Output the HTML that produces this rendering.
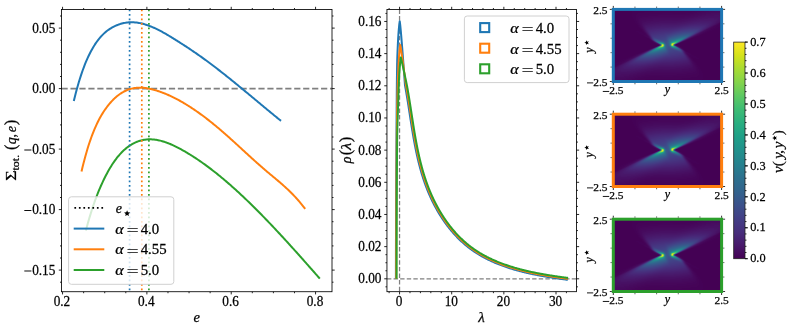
<!DOCTYPE html>
<html><head><meta charset="utf-8"><style>
html,body{margin:0;padding:0;background:#fff;}
#fig{position:relative;width:793px;height:331px;overflow:hidden;background:#fff;font-family:"Liberation Serif", serif;}
svg{position:absolute;left:0;top:0;}
text{stroke:#000;stroke-width:0.25px;}
</style></head><body><div id="fig">
<canvas class="hm" width="108" height="72" style="position:absolute;left:613.3px;top:9.4px;width:108.3px;height:72.1px;background:#440154"></canvas>
<canvas class="hm" width="108" height="72" style="position:absolute;left:613.3px;top:114.2px;width:108.3px;height:72.3px;background:#440154"></canvas>
<canvas class="hm" width="108" height="72" style="position:absolute;left:613.3px;top:219.2px;width:108.3px;height:72.3px;background:#440154"></canvas>
<svg width="793" height="331" viewBox="0 0 793 331">
<g id="left">
<line x1="61.5" y1="88.6" x2="332" y2="88.6" stroke="#808080" stroke-width="1.8" stroke-dasharray="6.2 2.75"/>
<path d="M73.80,101.09 L74.80,96.97 L75.80,93.04 L76.80,89.28 L77.80,85.68 L78.80,82.24 L79.81,78.96 L80.81,75.83 L81.81,72.85 L82.81,70.00 L83.81,67.28 L84.81,64.70 L85.81,62.23 L86.81,59.88 L87.81,57.64 L88.81,55.51 L89.82,53.48 L90.82,51.54 L91.82,49.70 L92.82,47.94 L93.82,46.26 L94.82,44.67 L95.82,43.16 L96.82,41.73 L97.82,40.37 L98.82,39.08 L99.83,37.86 L100.83,36.71 L101.83,35.62 L102.83,34.60 L103.83,33.63 L104.83,32.72 L105.83,31.86 L106.83,31.06 L107.83,30.30 L108.83,29.59 L109.83,28.92 L110.84,28.29 L111.84,27.70 L112.84,27.14 L113.84,26.62 L114.84,26.13 L115.84,25.67 L116.84,25.24 L117.84,24.84 L118.84,24.47 L119.84,24.13 L120.85,23.81 L121.85,23.53 L122.85,23.28 L123.85,23.05 L124.85,22.86 L125.85,22.69 L126.85,22.55 L127.85,22.43 L128.85,22.35 L129.85,22.29 L130.86,22.26 L131.86,22.26 L132.86,22.28 L133.86,22.32 L134.86,22.40 L135.86,22.49 L136.86,22.61 L137.86,22.75 L138.86,22.92 L139.86,23.11 L140.86,23.32 L141.87,23.55 L142.87,23.80 L143.87,24.07 L144.87,24.36 L145.87,24.67 L146.87,25.00 L147.87,25.34 L148.87,25.70 L149.87,26.08 L150.87,26.48 L151.88,26.89 L152.88,27.32 L153.88,27.76 L154.88,28.21 L155.88,28.68 L156.88,29.16 L157.88,29.65 L158.88,30.16 L159.88,30.68 L160.88,31.20 L161.89,31.74 L162.89,32.29 L163.89,32.85 L164.89,33.41 L165.89,33.99 L166.89,34.57 L167.89,35.16 L168.89,35.75 L169.89,36.35 L170.89,36.96 L171.89,37.57 L172.90,38.18 L173.90,38.80 L174.90,39.43 L175.90,40.05 L176.90,40.68 L177.90,41.31 L178.90,41.94 L179.90,42.58 L180.90,43.22 L181.90,43.86 L182.91,44.51 L183.91,45.16 L184.91,45.81 L185.91,46.46 L186.91,47.12 L187.91,47.78 L188.91,48.44 L189.91,49.11 L190.91,49.78 L191.91,50.46 L192.91,51.14 L193.92,51.82 L194.92,52.50 L195.92,53.19 L196.92,53.88 L197.92,54.58 L198.92,55.28 L199.92,55.99 L200.92,56.69 L201.92,57.41 L202.92,58.12 L203.93,58.84 L204.93,59.57 L205.93,60.30 L206.93,61.03 L207.93,61.77 L208.93,62.51 L209.93,63.25 L210.93,64.00 L211.93,64.75 L212.93,65.51 L213.94,66.27 L214.94,67.03 L215.94,67.80 L216.94,68.56 L217.94,69.34 L218.94,70.11 L219.94,70.89 L220.94,71.67 L221.94,72.46 L222.94,73.25 L223.94,74.04 L224.95,74.83 L225.95,75.62 L226.95,76.42 L227.95,77.22 L228.95,78.02 L229.95,78.83 L230.95,79.63 L231.95,80.44 L232.95,81.25 L233.95,82.07 L234.96,82.88 L235.96,83.70 L236.96,84.51 L237.96,85.33 L238.96,86.15 L239.96,86.98 L240.96,87.80 L241.96,88.62 L242.96,89.45 L243.96,90.28 L244.97,91.10 L245.97,91.93 L246.97,92.76 L247.97,93.59 L248.97,94.42 L249.97,95.26 L250.97,96.09 L251.97,96.92 L252.97,97.75 L253.97,98.58 L254.97,99.42 L255.98,100.25 L256.98,101.08 L257.98,101.92 L258.98,102.75 L259.98,103.58 L260.98,104.41 L261.98,105.25 L262.98,106.08 L263.98,106.91 L264.98,107.74 L265.99,108.57 L266.99,109.40 L267.99,110.22 L268.99,111.05 L269.99,111.87 L270.99,112.70 L271.99,113.52 L272.99,114.34 L273.99,115.16 L274.99,115.98 L276.00,116.80 L277.00,117.61 L278.00,118.43 L279.00,119.24 L280.00,120.05 L281.00,120.86" fill="none" stroke="#1f77b4" stroke-width="2" stroke-linejoin="round"/>
<path d="M81.50,171.45 L82.50,167.25 L83.51,163.23 L84.51,159.38 L85.51,155.69 L86.52,152.17 L87.52,148.79 L88.52,145.57 L89.53,142.49 L90.53,139.56 L91.53,136.75 L92.53,134.08 L93.54,131.53 L94.54,129.10 L95.54,126.79 L96.55,124.58 L97.55,122.48 L98.55,120.48 L99.56,118.58 L100.56,116.76 L101.56,115.03 L102.57,113.38 L103.57,111.81 L104.57,110.30 L105.58,108.86 L106.58,107.48 L107.58,106.16 L108.58,104.88 L109.59,103.67 L110.59,102.50 L111.59,101.39 L112.60,100.33 L113.60,99.31 L114.60,98.35 L115.61,97.44 L116.61,96.57 L117.61,95.75 L118.62,94.97 L119.62,94.24 L120.62,93.55 L121.63,92.91 L122.63,92.31 L123.63,91.75 L124.63,91.23 L125.64,90.75 L126.64,90.30 L127.64,89.90 L128.65,89.53 L129.65,89.20 L130.65,88.90 L131.66,88.64 L132.66,88.41 L133.66,88.22 L134.67,88.05 L135.67,87.92 L136.67,87.81 L137.68,87.74 L138.68,87.69 L139.68,87.67 L140.69,87.68 L141.69,87.71 L142.69,87.76 L143.69,87.84 L144.70,87.95 L145.70,88.07 L146.70,88.22 L147.71,88.39 L148.71,88.57 L149.71,88.78 L150.72,89.00 L151.72,89.24 L152.72,89.49 L153.73,89.76 L154.73,90.04 L155.73,90.34 L156.74,90.65 L157.74,90.97 L158.74,91.30 L159.74,91.65 L160.75,92.00 L161.75,92.37 L162.75,92.75 L163.76,93.13 L164.76,93.53 L165.76,93.94 L166.77,94.36 L167.77,94.79 L168.77,95.24 L169.78,95.69 L170.78,96.15 L171.78,96.62 L172.79,97.10 L173.79,97.59 L174.79,98.10 L175.80,98.61 L176.80,99.13 L177.80,99.66 L178.80,100.20 L179.81,100.75 L180.81,101.31 L181.81,101.88 L182.82,102.46 L183.82,103.04 L184.82,103.64 L185.83,104.25 L186.83,104.86 L187.83,105.48 L188.84,106.11 L189.84,106.75 L190.84,107.40 L191.85,108.06 L192.85,108.72 L193.85,109.39 L194.85,110.07 L195.86,110.76 L196.86,111.46 L197.86,112.16 L198.87,112.88 L199.87,113.59 L200.87,114.32 L201.88,115.06 L202.88,115.80 L203.88,116.55 L204.89,117.30 L205.89,118.07 L206.89,118.84 L207.90,119.61 L208.90,120.40 L209.90,121.19 L210.90,121.98 L211.91,122.79 L212.91,123.60 L213.91,124.41 L214.92,125.24 L215.92,126.07 L216.92,126.90 L217.93,127.74 L218.93,128.59 L219.93,129.44 L220.94,130.30 L221.94,131.16 L222.94,132.03 L223.95,132.90 L224.95,133.78 L225.95,134.66 L226.96,135.55 L227.96,136.44 L228.96,137.34 L229.96,138.24 L230.97,139.14 L231.97,140.05 L232.97,140.96 L233.98,141.87 L234.98,142.78 L235.98,143.70 L236.99,144.62 L237.99,145.53 L238.99,146.45 L240.00,147.38 L241.00,148.30 L242.00,149.22 L243.01,150.14 L244.01,151.06 L245.01,151.99 L246.01,152.91 L247.02,153.83 L248.02,154.75 L249.02,155.66 L250.03,156.58 L251.03,157.49 L252.03,158.41 L253.04,159.32 L254.04,160.22 L255.04,161.13 L256.05,162.03 L257.05,162.92 L258.05,163.82 L259.06,164.71 L260.06,165.59 L261.06,166.47 L262.07,167.35 L263.07,168.22 L264.07,169.08 L265.07,169.94 L266.08,170.79 L267.08,171.64 L268.08,172.49 L269.09,173.33 L270.09,174.16 L271.09,175.00 L272.10,175.83 L273.10,176.67 L274.10,177.51 L275.11,178.34 L276.11,179.19 L277.11,180.03 L278.12,180.88 L279.12,181.74 L280.12,182.60 L281.12,183.47 L282.13,184.34 L283.13,185.23 L284.13,186.13 L285.14,187.03 L286.14,187.95 L287.14,188.89 L288.15,189.83 L289.15,190.79 L290.15,191.77 L291.16,192.76 L292.16,193.77 L293.16,194.80 L294.17,195.85 L295.17,196.91 L296.17,198.00 L297.17,199.11 L298.18,200.24 L299.18,201.40 L300.18,202.58 L301.19,203.78 L302.19,205.02 L303.19,206.28 L304.20,207.56 L305.20,208.88" fill="none" stroke="#ff7f0e" stroke-width="2" stroke-linejoin="round"/>
<path d="M85.90,230.46 L86.90,226.69 L87.91,223.05 L88.91,219.54 L89.92,216.14 L90.92,212.87 L91.92,209.71 L92.93,206.66 L93.93,203.71 L94.93,200.87 L95.94,198.13 L96.94,195.49 L97.95,192.93 L98.95,190.46 L99.95,188.08 L100.96,185.77 L101.96,183.55 L102.97,181.39 L103.97,179.30 L104.97,177.28 L105.98,175.32 L106.98,173.42 L107.98,171.58 L108.99,169.80 L109.99,168.08 L111.00,166.42 L112.00,164.82 L113.00,163.28 L114.01,161.81 L115.01,160.39 L116.02,159.03 L117.02,157.72 L118.02,156.48 L119.03,155.29 L120.03,154.15 L121.04,153.06 L122.04,152.03 L123.04,151.04 L124.05,150.11 L125.05,149.22 L126.05,148.37 L127.06,147.57 L128.06,146.81 L129.07,146.10 L130.07,145.42 L131.07,144.78 L132.08,144.18 L133.08,143.62 L134.09,143.10 L135.09,142.61 L136.09,142.16 L137.10,141.75 L138.10,141.37 L139.10,141.02 L140.11,140.71 L141.11,140.44 L142.12,140.19 L143.12,139.98 L144.12,139.79 L145.13,139.64 L146.13,139.52 L147.14,139.43 L148.14,139.37 L149.14,139.33 L150.15,139.32 L151.15,139.34 L152.15,139.39 L153.16,139.46 L154.16,139.56 L155.17,139.68 L156.17,139.83 L157.17,139.99 L158.18,140.19 L159.18,140.40 L160.19,140.64 L161.19,140.89 L162.19,141.17 L163.20,141.47 L164.20,141.78 L165.21,142.12 L166.21,142.47 L167.21,142.84 L168.22,143.22 L169.22,143.62 L170.22,144.04 L171.23,144.47 L172.23,144.92 L173.24,145.38 L174.24,145.85 L175.24,146.34 L176.25,146.83 L177.25,147.34 L178.26,147.86 L179.26,148.39 L180.26,148.92 L181.27,149.47 L182.27,150.03 L183.27,150.59 L184.28,151.16 L185.28,151.74 L186.29,152.32 L187.29,152.92 L188.29,153.52 L189.30,154.13 L190.30,154.75 L191.31,155.37 L192.31,156.00 L193.31,156.64 L194.32,157.29 L195.32,157.95 L196.32,158.61 L197.33,159.28 L198.33,159.96 L199.34,160.64 L200.34,161.33 L201.34,162.03 L202.35,162.74 L203.35,163.45 L204.36,164.17 L205.36,164.89 L206.36,165.63 L207.37,166.37 L208.37,167.11 L209.38,167.87 L210.38,168.63 L211.38,169.39 L212.39,170.17 L213.39,170.94 L214.39,171.73 L215.40,172.52 L216.40,173.32 L217.41,174.12 L218.41,174.93 L219.41,175.75 L220.42,176.57 L221.42,177.40 L222.43,178.24 L223.43,179.08 L224.43,179.92 L225.44,180.78 L226.44,181.63 L227.44,182.50 L228.45,183.37 L229.45,184.24 L230.46,185.12 L231.46,186.00 L232.46,186.90 L233.47,187.79 L234.47,188.69 L235.48,189.60 L236.48,190.51 L237.48,191.43 L238.49,192.35 L239.49,193.28 L240.49,194.21 L241.50,195.14 L242.50,196.09 L243.51,197.03 L244.51,197.98 L245.51,198.94 L246.52,199.90 L247.52,200.86 L248.53,201.83 L249.53,202.81 L250.53,203.78 L251.54,204.77 L252.54,205.75 L253.55,206.74 L254.55,207.74 L255.55,208.74 L256.56,209.74 L257.56,210.75 L258.56,211.76 L259.57,212.77 L260.57,213.79 L261.58,214.81 L262.58,215.84 L263.58,216.87 L264.59,217.90 L265.59,218.94 L266.60,219.98 L267.60,221.02 L268.60,222.07 L269.61,223.12 L270.61,224.17 L271.61,225.23 L272.62,226.29 L273.62,227.35 L274.63,228.42 L275.63,229.49 L276.63,230.56 L277.64,231.64 L278.64,232.71 L279.65,233.79 L280.65,234.88 L281.65,235.96 L282.66,237.05 L283.66,238.14 L284.66,239.24 L285.67,240.33 L286.67,241.43 L287.68,242.53 L288.68,243.63 L289.68,244.74 L290.69,245.85 L291.69,246.96 L292.70,248.07 L293.70,249.18 L294.70,250.30 L295.71,251.41 L296.71,252.53 L297.72,253.65 L298.72,254.78 L299.72,255.90 L300.73,257.03 L301.73,258.15 L302.73,259.28 L303.74,260.41 L304.74,261.54 L305.75,262.68 L306.75,263.81 L307.75,264.95 L308.76,266.08 L309.76,267.22 L310.77,268.36 L311.77,269.50 L312.77,270.64 L313.78,271.78 L314.78,272.93 L315.78,274.07 L316.79,275.21 L317.79,276.36 L318.80,277.50 L319.80,278.65" fill="none" stroke="#2ca02c" stroke-width="2" stroke-linejoin="round"/>
<line x1="129.6" y1="9.5" x2="129.6" y2="291.72" stroke="#1f77b4" stroke-width="1.7" stroke-dasharray="1.7 2.8"/>
<line x1="141.8" y1="9.5" x2="141.8" y2="291.72" stroke="#ff7f0e" stroke-width="1.7" stroke-dasharray="1.7 2.8"/>
<line x1="148.9" y1="9.5" x2="148.9" y2="291.72" stroke="#2ca02c" stroke-width="1.7" stroke-dasharray="1.7 2.8"/>
</g>
<line x1="386.95" y1="278.8" x2="576.45" y2="278.8" stroke="#808080" stroke-width="1.25" stroke-dasharray="4.4 2.2"/>
<line x1="399.55" y1="9.5" x2="399.55" y2="291.68" stroke="#808080" stroke-width="1.25" stroke-dasharray="4.4 2.2"/>
<path d="M395.90,278.70 L395.90,276.54 L395.90,274.37 L395.91,272.21 L395.91,270.05 L395.91,267.88 L395.91,265.72 L395.92,263.56 L395.92,261.40 L395.93,259.23 L395.93,257.07 L395.93,254.91 L395.94,252.74 L395.94,250.58 L395.95,248.42 L395.95,246.25 L395.96,244.09 L395.96,241.93 L395.97,239.77 L395.98,237.60 L395.98,235.44 L395.99,233.28 L395.99,231.11 L396.00,228.95 L396.01,226.79 L396.02,224.62 L396.02,222.46 L396.03,220.30 L396.04,218.14 L396.04,215.97 L396.05,213.81 L396.06,211.65 L396.07,209.48 L396.07,207.32 L396.08,205.16 L396.09,202.99 L396.10,200.83 L396.10,198.67 L396.11,196.51 L396.12,194.34 L396.13,192.18 L396.14,190.02 L396.15,187.85 L396.16,185.69 L396.17,183.53 L396.18,181.36 L396.20,179.20 L396.21,177.04 L396.22,174.87 L396.23,172.71 L396.25,170.55 L396.26,168.39 L396.27,166.22 L396.29,164.06 L396.30,161.90 L396.32,159.73 L396.33,157.57 L396.34,155.41 L396.36,153.24 L396.37,151.08 L396.39,148.92 L396.40,146.76 L396.42,144.59 L396.43,142.43 L396.45,140.27 L396.46,138.10 L396.48,135.94 L396.49,133.78 L396.51,131.61 L396.52,129.45 L396.53,127.29 L396.55,125.13 L396.56,122.96 L396.57,120.80 L396.59,118.64 L396.60,116.47 L396.62,114.31 L396.63,112.15 L396.65,109.98 L396.66,107.82 L396.68,105.66 L396.69,103.49 L396.71,101.33 L396.73,99.17 L396.74,97.01 L396.76,94.84 L396.78,92.68 L396.80,90.52 L396.82,88.35 L396.84,86.19 L396.87,84.03 L396.89,81.86 L396.92,79.70 L396.94,77.54 L396.97,75.38 L397.00,73.21 L397.03,71.05 L397.06,68.89 L397.09,66.72 L397.13,64.56 L397.18,62.40 L397.23,60.23 L397.30,58.07 L397.37,55.91 L397.45,53.75 L397.53,51.58 L397.62,49.42 L397.72,47.26 L397.82,45.09 L397.92,42.93 L398.03,40.77 L398.14,38.60 L398.28,36.44 L398.42,34.28 L398.58,32.12 L398.76,29.95 L398.95,27.79 L399.17,25.63 L399.42,23.46 L399.70,21.30 L399.75,21.49 L399.80,21.76 L399.86,22.10 L399.92,22.52 L399.99,23.02 L400.06,23.59 L400.13,24.24 L400.22,24.97 L400.30,25.77 L400.39,26.65 L400.48,27.60 L400.58,28.63 L400.69,29.74 L400.79,30.92 L400.91,32.18 L401.02,33.51 L401.14,34.92 L401.27,36.41 L401.40,37.97 L401.53,39.61 L401.67,41.33 L401.82,43.12 L401.97,44.99 L402.12,46.93 L402.28,48.95 L402.44,51.05 L402.61,53.22 L402.78,55.47 L402.96,57.79 L403.14,60.19 L403.32,62.67 L403.51,65.22 L403.71,67.85 L403.90,70.56 L404.11,73.34 L404.32,76.20 L404.53,79.13 L404.75,82.14 L404.97,85.23 L405.10,85.92 L405.22,86.62 L405.35,87.31 L405.48,88.01 L405.60,88.70 L405.72,89.40 L405.85,90.09 L405.97,90.79 L406.09,91.48 L406.21,92.18 L406.33,92.88 L406.45,93.57 L406.57,94.27 L406.69,94.97 L406.80,95.67 L406.92,96.36 L407.03,97.06 L407.15,97.76 L407.26,98.46 L407.38,99.16 L407.49,99.86 L407.60,100.56 L407.72,101.26 L407.83,101.96 L407.94,102.66 L408.05,103.36 L408.16,104.06 L408.27,104.76 L408.38,105.46 L408.49,106.16 L408.60,106.86 L408.71,107.57 L408.82,108.27 L408.93,108.97 L409.03,109.67 L409.14,110.37 L409.25,111.08 L409.36,111.78 L409.47,112.48 L409.58,113.18 L409.68,113.89 L409.79,114.59 L409.90,115.29 L410.01,116.00 L410.12,116.70 L410.22,117.40 L410.33,118.10 L410.44,118.81 L410.55,119.51 L410.66,120.21 L410.77,120.92 L410.88,121.62 L410.99,122.32 L411.10,123.03 L411.21,123.73 L411.32,124.43 L411.43,125.14 L411.54,125.84 L411.65,126.54 L411.77,127.25 L411.88,127.95 L411.99,128.65 L412.11,129.36 L412.22,130.06 L412.34,130.76 L412.45,131.46 L412.57,132.17 L412.69,132.87 L412.81,133.57 L412.93,134.27 L413.05,134.98 L413.17,135.68 L413.29,136.38 L413.41,137.08 L413.53,137.78 L413.66,138.48 L413.78,139.18 L413.91,139.88 L414.03,140.59 L414.16,141.29 L414.29,141.99 L414.42,142.69 L414.55,143.39 L414.68,144.09 L414.81,144.78 L414.95,145.48 L415.08,146.18 L415.22,146.88 L415.36,147.58 L415.50,148.28 L415.64,148.98 L415.78,149.67 L415.92,150.37 L416.07,151.07 L416.21,151.76 L416.36,152.46 L416.51,153.15 L416.66,153.85 L416.81,154.55 L416.96,155.24 L417.12,155.93 L417.27,156.63 L417.43,157.32 L417.59,158.02 L417.75,158.71 L417.92,159.40 L418.08,160.09 L418.25,160.78 L418.41,161.48 L418.58,162.17 L418.76,162.86 L418.93,163.55 L419.10,164.24 L419.28,164.92 L419.46,165.61 L419.64,166.30 L419.82,166.99 L420.01,167.68 L420.20,168.36 L420.39,169.05 L420.58,169.73 L420.77,170.42 L420.96,171.10 L421.16,171.79 L421.36,172.47 L421.56,173.15 L421.77,173.83 L421.97,174.52 L422.18,175.20 L422.39,175.88 L422.61,176.56 L422.82,177.24 L423.04,177.91 L423.26,178.59 L423.48,179.27 L423.71,179.95 L423.94,180.62 L424.17,181.30 L424.40,181.97 L424.64,182.65 L424.87,183.32 L425.11,183.99 L425.36,184.66 L425.60,185.34 L425.85,186.01 L426.10,186.68 L426.36,187.35 L426.61,188.01 L426.87,188.68 L427.14,189.35 L427.40,190.01 L427.67,190.68 L427.94,191.34 L428.22,192.01 L428.49,192.67 L428.77,193.33 L429.06,193.99 L429.34,194.66 L429.63,195.31 L429.92,195.97 L430.22,196.63 L430.51,197.29 L430.81,197.94 L431.12,198.60 L431.42,199.25 L431.73,199.90 L432.05,200.55 L432.36,201.20 L432.68,201.85 L433.00,202.49 L433.32,203.14 L433.65,203.78 L433.98,204.43 L434.31,205.07 L434.65,205.71 L434.99,206.35 L435.33,206.98 L435.67,207.62 L436.02,208.25 L436.37,208.88 L436.72,209.51 L437.08,210.14 L437.44,210.77 L437.80,211.39 L438.16,212.02 L438.53,212.64 L438.90,213.26 L439.28,213.88 L439.65,214.49 L440.03,215.10 L440.41,215.72 L440.80,216.33 L441.19,216.93 L441.58,217.54 L441.97,218.14 L442.37,218.74 L442.77,219.34 L443.17,219.94 L443.58,220.54 L443.99,221.13 L444.40,221.72 L444.81,222.31 L445.23,222.89 L445.65,223.48 L446.07,224.06 L446.50,224.64 L446.93,225.21 L447.36,225.78 L447.80,226.36 L448.23,226.92 L448.67,227.49 L449.12,228.05 L449.56,228.61 L450.01,229.17 L450.47,229.72 L450.92,230.28 L451.38,230.83 L451.84,231.37 L452.31,231.92 L452.77,232.46 L453.24,232.99 L453.72,233.53 L454.19,234.06 L454.67,234.59 L455.15,235.11 L455.64,235.64 L456.12,236.16 L456.61,236.67 L457.11,237.18 L457.60,237.69 L458.10,238.20 L458.60,238.70 L459.11,239.20 L459.62,239.70 L460.13,240.19 L460.64,240.68 L461.16,241.17 L461.68,241.65 L462.20,242.13 L462.73,242.61 L463.25,243.08 L463.79,243.55 L464.32,244.01 L464.86,244.47 L465.40,244.93 L465.94,245.38 L466.49,245.83 L467.03,246.28 L467.59,246.72 L468.14,247.16 L468.70,247.59 L469.26,248.03 L469.82,248.45 L470.39,248.87 L470.96,249.29 L471.53,249.71 L472.10,250.12 L472.68,250.52 L473.26,250.93 L473.84,251.33 L474.43,251.72 L475.01,252.11 L475.60,252.50 L476.20,252.88 L476.79,253.26 L477.39,253.64 L477.99,254.01 L478.59,254.38 L479.20,254.74 L479.80,255.11 L480.41,255.46 L481.03,255.82 L481.64,256.17 L482.26,256.52 L482.87,256.86 L483.50,257.20 L484.12,257.54 L484.74,257.87 L485.37,258.20 L486.00,258.53 L486.63,258.85 L487.27,259.17 L487.90,259.48 L488.54,259.80 L489.18,260.11 L489.82,260.41 L490.46,260.72 L491.11,261.02 L491.75,261.31 L492.40,261.61 L493.05,261.90 L493.71,262.18 L494.36,262.47 L495.01,262.75 L495.67,263.03 L496.33,263.30 L496.99,263.58 L497.65,263.84 L498.32,264.11 L498.98,264.37 L499.65,264.63 L500.32,264.89 L500.99,265.15 L501.66,265.40 L502.33,265.65 L503.00,265.89 L503.68,266.14 L504.36,266.38 L505.03,266.62 L505.71,266.85 L506.39,267.08 L507.07,267.31 L507.76,267.54 L508.44,267.77 L509.12,267.99 L509.81,268.21 L510.50,268.42 L511.19,268.64 L511.87,268.85 L512.56,269.06 L513.26,269.27 L513.95,269.47 L514.64,269.68 L515.33,269.88 L516.03,270.07 L516.72,270.27 L517.42,270.46 L518.12,270.65 L518.81,270.84 L519.51,271.03 L520.21,271.21 L520.91,271.39 L521.61,271.57 L522.31,271.75 L523.01,271.93 L523.71,272.10 L524.42,272.27 L525.12,272.44 L525.82,272.61 L526.53,272.77 L527.23,272.94 L527.94,273.10 L528.64,273.26 L529.35,273.41 L530.05,273.57 L530.76,273.72 L531.46,273.88 L532.17,274.03 L532.88,274.17 L533.58,274.32 L534.29,274.47 L535.00,274.61 L535.70,274.75 L536.41,274.89 L537.12,275.03 L537.83,275.16 L538.53,275.30 L539.24,275.43 L539.95,275.57 L540.65,275.70 L541.36,275.82 L542.07,275.95 L542.77,276.08 L543.48,276.20 L544.18,276.32 L544.89,276.45 L545.60,276.57 L546.30,276.69 L547.00,276.80 L547.71,276.92 L548.41,277.03 L549.12,277.15 L549.82,277.26 L550.52,277.37 L551.22,277.48 L551.92,277.59 L552.63,277.70 L553.33,277.80 L554.02,277.91 L554.72,278.01 L555.42,278.12 L556.12,278.22 L556.82,278.32 L557.51,278.42 L558.21,278.52 L558.90,278.62 L559.59,278.72 L560.29,278.81 L560.98,278.91 L561.67,279.01 L562.36,279.10 L563.05,279.19 L563.74,279.29 L564.42,279.38 L565.11,279.47 L565.79,279.56 L566.48,279.65 L567.16,279.74 L567.84,279.83" fill="none" stroke="#1f77b4" stroke-width="2" stroke-linejoin="round"/>
<path d="M396.20,278.70 L396.20,276.74 L396.20,274.77 L396.21,272.81 L396.21,270.84 L396.21,268.88 L396.21,266.92 L396.22,264.95 L396.22,262.99 L396.22,261.03 L396.23,259.06 L396.23,257.10 L396.23,255.13 L396.24,253.17 L396.24,251.21 L396.25,249.24 L396.25,247.28 L396.26,245.31 L396.26,243.35 L396.27,241.39 L396.27,239.42 L396.28,237.46 L396.28,235.49 L396.29,233.53 L396.29,231.57 L396.30,229.60 L396.31,227.64 L396.31,225.68 L396.32,223.71 L396.32,221.75 L396.33,219.78 L396.34,217.82 L396.34,215.86 L396.35,213.89 L396.36,211.93 L396.36,209.96 L396.37,208.00 L396.38,206.04 L396.39,204.07 L396.39,202.11 L396.40,200.15 L396.41,198.18 L396.41,196.22 L396.42,194.25 L396.43,192.29 L396.44,190.33 L396.45,188.36 L396.45,186.40 L396.46,184.43 L396.47,182.47 L396.48,180.51 L396.49,178.54 L396.50,176.58 L396.51,174.62 L396.52,172.65 L396.53,170.69 L396.54,168.72 L396.55,166.76 L396.57,164.80 L396.58,162.83 L396.59,160.87 L396.60,158.90 L396.62,156.94 L396.63,154.98 L396.65,153.01 L396.66,151.05 L396.67,149.08 L396.69,147.12 L396.71,145.16 L396.72,143.19 L396.74,141.23 L396.76,139.27 L396.78,137.30 L396.80,135.34 L396.82,133.37 L396.84,131.41 L396.86,129.45 L396.89,127.48 L396.92,125.52 L396.94,123.55 L396.97,121.59 L397.00,119.63 L397.03,117.66 L397.07,115.70 L397.10,113.74 L397.14,111.77 L397.17,109.81 L397.21,107.84 L397.25,105.88 L397.29,103.92 L397.33,101.95 L397.37,99.99 L397.41,98.02 L397.46,96.06 L397.50,94.10 L397.55,92.13 L397.60,90.17 L397.64,88.21 L397.70,86.24 L397.75,84.28 L397.81,82.31 L397.87,80.35 L397.94,78.39 L398.01,76.42 L398.09,74.46 L398.16,72.49 L398.25,70.53 L398.33,68.57 L398.42,66.60 L398.52,64.64 L398.62,62.67 L398.74,60.71 L398.87,58.75 L399.01,56.78 L399.16,54.82 L399.33,52.86 L399.50,50.89 L399.71,48.93 L399.95,46.96 L400.20,45.00 L400.25,45.18 L400.30,45.40 L400.36,45.66 L400.43,45.97 L400.50,46.33 L400.57,46.73 L400.65,47.17 L400.74,47.66 L400.83,48.20 L400.92,48.78 L401.02,49.40 L401.13,50.07 L401.24,50.78 L401.36,51.54 L401.48,52.34 L401.60,53.19 L401.74,54.08 L401.87,55.02 L402.01,56.00 L402.16,57.03 L402.31,58.10 L402.47,59.22 L402.64,60.38 L402.80,61.59 L402.98,62.84 L403.16,64.13 L403.34,65.47 L403.53,66.86 L403.72,68.29 L403.92,69.76 L404.13,71.28 L404.34,72.85 L404.55,74.45 L404.77,76.11 L405.00,77.81 L405.23,79.55 L405.46,81.34 L405.70,83.17 L405.95,85.05 L406.08,85.74 L406.21,86.44 L406.33,87.13 L406.46,87.83 L406.59,88.52 L406.71,89.22 L406.83,89.92 L406.96,90.61 L407.08,91.31 L407.20,92.01 L407.32,92.71 L407.44,93.40 L407.55,94.10 L407.67,94.80 L407.79,95.50 L407.91,96.20 L408.02,96.90 L408.14,97.60 L408.25,98.30 L408.36,99.00 L408.48,99.70 L408.59,100.40 L408.70,101.10 L408.82,101.80 L408.93,102.50 L409.04,103.20 L409.15,103.90 L409.26,104.61 L409.37,105.31 L409.48,106.01 L409.59,106.71 L409.70,107.41 L409.81,108.11 L409.91,108.82 L410.02,109.52 L410.13,110.22 L410.24,110.92 L410.35,111.63 L410.46,112.33 L410.56,113.03 L410.67,113.73 L410.78,114.44 L410.89,115.14 L411.00,115.84 L411.10,116.55 L411.21,117.25 L411.32,117.95 L411.43,118.66 L411.54,119.36 L411.65,120.06 L411.76,120.76 L411.87,121.47 L411.98,122.17 L412.09,122.87 L412.20,123.58 L412.31,124.28 L412.42,124.98 L412.53,125.68 L412.64,126.39 L412.75,127.09 L412.87,127.79 L412.98,128.49 L413.10,129.19 L413.21,129.90 L413.33,130.60 L413.44,131.30 L413.56,132.00 L413.68,132.70 L413.79,133.40 L413.91,134.11 L414.03,134.81 L414.15,135.51 L414.27,136.21 L414.39,136.91 L414.52,137.61 L414.64,138.31 L414.77,139.01 L414.89,139.71 L415.02,140.41 L415.14,141.11 L415.27,141.80 L415.40,142.50 L415.53,143.20 L415.66,143.90 L415.80,144.60 L415.93,145.29 L416.07,145.99 L416.20,146.69 L416.34,147.38 L416.48,148.08 L416.62,148.78 L416.76,149.47 L416.90,150.17 L417.05,150.86 L417.19,151.56 L417.34,152.25 L417.49,152.94 L417.64,153.64 L417.79,154.33 L417.94,155.02 L418.09,155.72 L418.25,156.41 L418.41,157.10 L418.57,157.79 L418.73,158.48 L418.89,159.17 L419.05,159.86 L419.22,160.55 L419.39,161.24 L419.55,161.93 L419.73,162.61 L419.90,163.30 L420.07,163.99 L420.25,164.67 L420.43,165.36 L420.61,166.04 L420.79,166.73 L420.97,167.41 L421.16,168.10 L421.35,168.78 L421.54,169.46 L421.73,170.14 L421.93,170.83 L422.12,171.51 L422.32,172.19 L422.52,172.87 L422.73,173.55 L422.93,174.22 L423.14,174.90 L423.35,175.58 L423.56,176.26 L423.78,176.93 L423.99,177.61 L424.21,178.28 L424.43,178.96 L424.66,179.63 L424.88,180.30 L425.11,180.97 L425.34,181.64 L425.58,182.32 L425.82,182.99 L426.05,183.65 L426.30,184.32 L426.54,184.99 L426.79,185.66 L427.04,186.32 L427.29,186.99 L427.55,187.65 L427.81,188.32 L428.07,188.98 L428.33,189.64 L428.60,190.30 L428.87,190.97 L429.14,191.62 L429.41,192.28 L429.69,192.94 L429.97,193.60 L430.26,194.26 L430.54,194.91 L430.83,195.57 L431.13,196.22 L431.42,196.87 L431.72,197.52 L432.02,198.17 L432.33,198.82 L432.64,199.47 L432.95,200.12 L433.26,200.76 L433.58,201.41 L433.89,202.05 L434.22,202.69 L434.54,203.33 L434.87,203.97 L435.20,204.61 L435.53,205.24 L435.87,205.88 L436.21,206.51 L436.55,207.14 L436.90,207.77 L437.24,208.40 L437.59,209.02 L437.95,209.65 L438.30,210.27 L438.66,210.89 L439.03,211.51 L439.39,212.13 L439.76,212.74 L440.13,213.36 L440.50,213.97 L440.88,214.58 L441.26,215.18 L441.64,215.79 L442.03,216.39 L442.42,217.00 L442.81,217.59 L443.20,218.19 L443.60,218.79 L444.00,219.38 L444.40,219.97 L444.81,220.56 L445.22,221.15 L445.63,221.73 L446.04,222.31 L446.46,222.89 L446.88,223.47 L447.30,224.04 L447.73,224.61 L448.16,225.18 L448.59,225.75 L449.02,226.31 L449.46,226.87 L449.90,227.43 L450.35,227.99 L450.79,228.54 L451.24,229.09 L451.69,229.64 L452.15,230.18 L452.60,230.72 L453.06,231.26 L453.53,231.80 L453.99,232.33 L454.46,232.86 L454.93,233.39 L455.41,233.92 L455.89,234.44 L456.37,234.95 L456.85,235.47 L457.34,235.98 L457.83,236.49 L458.32,236.99 L458.81,237.50 L459.31,238.00 L459.81,238.49 L460.31,238.98 L460.82,239.47 L461.33,239.96 L461.84,240.44 L462.36,240.92 L462.87,241.39 L463.39,241.86 L463.92,242.33 L464.44,242.80 L464.97,243.26 L465.51,243.71 L466.04,244.17 L466.58,244.61 L467.12,245.06 L467.66,245.50 L468.21,245.94 L468.76,246.37 L469.31,246.80 L469.86,247.23 L470.42,247.65 L470.98,248.07 L471.55,248.48 L472.11,248.90 L472.68,249.30 L473.25,249.70 L473.83,250.10 L474.40,250.50 L474.98,250.89 L475.57,251.28 L476.15,251.66 L476.74,252.04 L477.33,252.42 L477.92,252.79 L478.51,253.16 L479.11,253.52 L479.71,253.89 L480.31,254.24 L480.92,254.60 L481.52,254.95 L482.13,255.30 L482.74,255.64 L483.36,255.98 L483.97,256.32 L484.59,256.65 L485.21,256.99 L485.83,257.31 L486.46,257.64 L487.08,257.96 L487.71,258.27 L488.34,258.59 L488.98,258.90 L489.61,259.21 L490.25,259.51 L490.89,259.81 L491.53,260.11 L492.17,260.40 L492.81,260.69 L493.46,260.98 L494.11,261.27 L494.76,261.55 L495.41,261.83 L496.06,262.11 L496.71,262.38 L497.37,262.65 L498.03,262.92 L498.69,263.18 L499.35,263.44 L500.01,263.70 L500.67,263.96 L501.34,264.21 L502.01,264.46 L502.68,264.71 L503.34,264.95 L504.02,265.20 L504.69,265.44 L505.36,265.67 L506.04,265.91 L506.71,266.14 L507.39,266.37 L508.07,266.59 L508.75,266.82 L509.43,267.04 L510.11,267.25 L510.80,267.47 L511.48,267.68 L512.17,267.89 L512.85,268.10 L513.54,268.31 L514.23,268.51 L514.92,268.71 L515.61,268.91 L516.30,269.11 L516.99,269.31 L517.68,269.50 L518.38,269.69 L519.07,269.87 L519.77,270.06 L520.46,270.24 L521.16,270.42 L521.86,270.60 L522.56,270.78 L523.25,270.96 L523.95,271.13 L524.65,271.30 L525.35,271.47 L526.05,271.63 L526.75,271.80 L527.46,271.96 L528.16,272.12 L528.86,272.28 L529.56,272.44 L530.27,272.59 L530.97,272.75 L531.67,272.90 L532.38,273.05 L533.08,273.20 L533.79,273.34 L534.49,273.49 L535.19,273.63 L535.90,273.77 L536.60,273.91 L537.31,274.05 L538.01,274.18 L538.72,274.32 L539.42,274.45 L540.13,274.58 L540.83,274.71 L541.54,274.84 L542.24,274.97 L542.95,275.09 L543.65,275.22 L544.36,275.34 L545.06,275.46 L545.76,275.58 L546.47,275.70 L547.17,275.82 L547.87,275.93 L548.57,276.05 L549.27,276.16 L549.98,276.27 L550.68,276.38 L551.38,276.49 L552.08,276.60 L552.78,276.71 L553.48,276.82 L554.17,276.92 L554.87,277.03 L555.57,277.13 L556.26,277.23 L556.96,277.33 L557.65,277.43 L558.35,277.53 L559.04,277.63 L559.73,277.73 L560.42,277.82 L561.12,277.92 L561.81,278.01 L562.49,278.11 L563.18,278.20 L563.87,278.29 L564.55,278.39 L565.24,278.48 L565.92,278.57 L566.61,278.66 L567.29,278.75 L567.97,278.83" fill="none" stroke="#ff7f0e" stroke-width="2" stroke-linejoin="round"/>
<path d="M396.60,278.70 L396.60,276.84 L396.60,274.98 L396.60,273.12 L396.61,271.26 L396.61,269.40 L396.61,267.54 L396.61,265.68 L396.62,263.82 L396.62,261.96 L396.62,260.10 L396.63,258.24 L396.63,256.38 L396.63,254.52 L396.64,252.66 L396.64,250.81 L396.65,248.95 L396.65,247.09 L396.66,245.23 L396.66,243.37 L396.67,241.51 L396.67,239.65 L396.68,237.79 L396.68,235.93 L396.69,234.07 L396.69,232.21 L396.70,230.35 L396.70,228.49 L396.71,226.63 L396.71,224.77 L396.72,222.91 L396.73,221.05 L396.73,219.19 L396.74,217.33 L396.75,215.47 L396.75,213.61 L396.76,211.75 L396.76,209.89 L396.77,208.03 L396.78,206.17 L396.78,204.31 L396.79,202.45 L396.80,200.59 L396.80,198.73 L396.81,196.87 L396.82,195.02 L396.82,193.16 L396.83,191.30 L396.84,189.44 L396.85,187.58 L396.85,185.72 L396.86,183.86 L396.87,182.00 L396.88,180.14 L396.89,178.28 L396.89,176.42 L396.90,174.56 L396.91,172.70 L396.92,170.84 L396.93,168.98 L396.94,167.12 L396.95,165.26 L396.96,163.40 L396.98,161.54 L396.99,159.68 L397.00,157.82 L397.01,155.96 L397.03,154.10 L397.04,152.24 L397.06,150.38 L397.07,148.52 L397.09,146.66 L397.10,144.80 L397.12,142.94 L397.14,141.08 L397.16,139.23 L397.18,137.37 L397.21,135.51 L397.25,133.65 L397.28,131.79 L397.33,129.93 L397.37,128.07 L397.42,126.21 L397.48,124.35 L397.53,122.49 L397.59,120.63 L397.65,118.77 L397.71,116.91 L397.78,115.05 L397.84,113.19 L397.90,111.33 L397.97,109.47 L398.03,107.61 L398.09,105.75 L398.15,103.89 L398.21,102.03 L398.27,100.17 L398.33,98.31 L398.39,96.45 L398.44,94.59 L398.50,92.73 L398.56,90.87 L398.63,89.01 L398.69,87.15 L398.76,85.29 L398.83,83.44 L398.91,81.58 L398.99,79.72 L399.08,77.86 L399.17,76.00 L399.28,74.14 L399.39,72.28 L399.52,70.42 L399.66,68.56 L399.80,66.70 L399.96,64.84 L400.14,62.98 L400.34,61.12 L400.56,59.26 L400.80,57.40 L400.85,57.57 L400.90,57.76 L400.96,57.99 L401.03,58.24 L401.10,58.52 L401.18,58.83 L401.26,59.17 L401.35,59.53 L401.44,59.93 L401.54,60.35 L401.64,60.80 L401.75,61.28 L401.87,61.79 L401.99,62.32 L402.12,62.89 L402.25,63.48 L402.39,64.10 L402.53,64.75 L402.68,65.42 L402.84,66.13 L403.00,66.86 L403.16,67.62 L403.33,68.41 L403.51,69.23 L403.69,70.07 L403.88,70.95 L404.08,71.85 L404.28,72.78 L404.48,73.74 L404.69,74.73 L404.91,75.74 L405.13,76.79 L405.36,77.86 L405.59,78.96 L405.83,80.09 L406.07,81.24 L406.32,82.43 L406.57,83.64 L406.83,84.88 L406.96,85.58 L407.09,86.27 L407.22,86.97 L407.35,87.67 L407.47,88.37 L407.60,89.06 L407.72,89.76 L407.84,90.46 L407.96,91.16 L408.08,91.86 L408.20,92.55 L408.32,93.25 L408.44,93.95 L408.56,94.65 L408.68,95.35 L408.79,96.05 L408.91,96.75 L409.02,97.45 L409.14,98.15 L409.25,98.85 L409.37,99.56 L409.48,100.26 L409.59,100.96 L409.70,101.66 L409.82,102.36 L409.93,103.06 L410.04,103.76 L410.15,104.47 L410.26,105.17 L410.37,105.87 L410.48,106.57 L410.59,107.27 L410.70,107.98 L410.80,108.68 L410.91,109.38 L411.02,110.08 L411.13,110.79 L411.24,111.49 L411.35,112.19 L411.45,112.90 L411.56,113.60 L411.67,114.30 L411.78,115.00 L411.89,115.71 L411.99,116.41 L412.10,117.11 L412.21,117.82 L412.32,118.52 L412.43,119.22 L412.54,119.92 L412.65,120.63 L412.76,121.33 L412.87,122.03 L412.98,122.73 L413.09,123.44 L413.20,124.14 L413.31,124.84 L413.42,125.54 L413.53,126.24 L413.64,126.95 L413.76,127.65 L413.87,128.35 L413.98,129.05 L414.10,129.75 L414.21,130.45 L414.33,131.15 L414.45,131.85 L414.56,132.55 L414.68,133.25 L414.80,133.96 L414.92,134.66 L415.04,135.35 L415.16,136.05 L415.28,136.75 L415.40,137.45 L415.53,138.15 L415.65,138.85 L415.78,139.55 L415.90,140.25 L416.03,140.94 L416.16,141.64 L416.29,142.34 L416.42,143.04 L416.55,143.73 L416.68,144.43 L416.81,145.12 L416.95,145.82 L417.09,146.51 L417.22,147.21 L417.36,147.90 L417.50,148.60 L417.64,149.29 L417.78,149.99 L417.93,150.68 L418.07,151.37 L418.22,152.06 L418.37,152.76 L418.52,153.45 L418.67,154.14 L418.82,154.83 L418.97,155.52 L419.13,156.21 L419.28,156.90 L419.44,157.59 L419.60,158.28 L419.76,158.96 L419.93,159.65 L420.09,160.34 L420.26,161.02 L420.43,161.71 L420.60,162.40 L420.77,163.08 L420.95,163.76 L421.12,164.45 L421.30,165.13 L421.48,165.81 L421.66,166.50 L421.84,167.18 L422.03,167.86 L422.22,168.54 L422.41,169.22 L422.60,169.90 L422.79,170.58 L422.99,171.26 L423.18,171.93 L423.38,172.61 L423.59,173.29 L423.79,173.96 L424.00,174.64 L424.21,175.31 L424.42,175.99 L424.63,176.66 L424.85,177.33 L425.07,178.00 L425.29,178.67 L425.51,179.34 L425.74,180.01 L425.96,180.68 L426.19,181.35 L426.43,182.02 L426.66,182.68 L426.90,183.35 L427.14,184.01 L427.39,184.68 L427.63,185.34 L427.88,186.01 L428.13,186.67 L428.39,187.33 L428.64,187.99 L428.90,188.65 L429.17,189.31 L429.43,189.97 L429.70,190.62 L429.97,191.28 L430.24,191.94 L430.52,192.59 L430.80,193.24 L431.08,193.90 L431.37,194.55 L431.66,195.20 L431.95,195.85 L432.24,196.50 L432.54,197.15 L432.84,197.79 L433.14,198.44 L433.45,199.08 L433.76,199.73 L434.07,200.37 L434.38,201.01 L434.70,201.65 L435.02,202.28 L435.34,202.92 L435.67,203.56 L436.00,204.19 L436.33,204.82 L436.66,205.45 L437.00,206.08 L437.34,206.71 L437.68,207.33 L438.03,207.96 L438.38,208.58 L438.73,209.20 L439.08,209.82 L439.44,210.44 L439.80,211.05 L440.17,211.67 L440.53,212.28 L440.90,212.89 L441.27,213.50 L441.65,214.10 L442.02,214.71 L442.40,215.31 L442.79,215.91 L443.17,216.51 L443.56,217.10 L443.95,217.69 L444.35,218.29 L444.75,218.87 L445.15,219.46 L445.55,220.05 L445.95,220.63 L446.36,221.21 L446.77,221.79 L447.19,222.36 L447.61,222.93 L448.03,223.50 L448.45,224.07 L448.88,224.64 L449.30,225.20 L449.74,225.76 L450.17,226.32 L450.61,226.87 L451.05,227.42 L451.49,227.97 L451.94,228.52 L452.38,229.06 L452.84,229.60 L453.29,230.14 L453.75,230.68 L454.21,231.21 L454.67,231.74 L455.14,232.27 L455.60,232.79 L456.07,233.31 L456.55,233.83 L457.03,234.34 L457.50,234.85 L457.99,235.36 L458.47,235.86 L458.96,236.37 L459.45,236.86 L459.95,237.36 L460.44,237.85 L460.94,238.34 L461.44,238.82 L461.95,239.30 L462.46,239.78 L462.97,240.26 L463.48,240.73 L464.00,241.19 L464.52,241.66 L465.04,242.12 L465.56,242.57 L466.09,243.03 L466.62,243.48 L467.15,243.92 L467.69,244.36 L468.23,244.80 L468.77,245.24 L469.31,245.67 L469.86,246.09 L470.41,246.51 L470.96,246.93 L471.52,247.35 L472.08,247.76 L472.64,248.16 L473.20,248.57 L473.77,248.97 L474.34,249.36 L474.91,249.75 L475.48,250.14 L476.06,250.53 L476.64,250.91 L477.22,251.28 L477.81,251.66 L478.40,252.03 L478.99,252.39 L479.58,252.76 L480.17,253.11 L480.77,253.47 L481.37,253.82 L481.97,254.17 L482.58,254.52 L483.18,254.86 L483.79,255.20 L484.40,255.53 L485.02,255.86 L485.63,256.19 L486.25,256.51 L486.87,256.84 L487.49,257.15 L488.12,257.47 L488.74,257.78 L489.37,258.09 L490.00,258.39 L490.63,258.70 L491.27,259.00 L491.90,259.29 L492.54,259.58 L493.18,259.87 L493.82,260.16 L494.47,260.44 L495.11,260.72 L495.76,261.00 L496.41,261.28 L497.06,261.55 L497.71,261.82 L498.36,262.08 L499.02,262.35 L499.68,262.61 L500.34,262.86 L501.00,263.12 L501.66,263.37 L502.32,263.62 L502.99,263.86 L503.65,264.11 L504.32,264.35 L504.99,264.59 L505.66,264.82 L506.33,265.05 L507.00,265.28 L507.68,265.51 L508.35,265.74 L509.03,265.96 L509.71,266.18 L510.39,266.40 L511.07,266.61 L511.75,266.82 L512.43,267.03 L513.11,267.24 L513.80,267.45 L514.48,267.65 L515.17,267.85 L515.86,268.05 L516.54,268.24 L517.23,268.44 L517.92,268.63 L518.61,268.82 L519.31,269.01 L520.00,269.19 L520.69,269.37 L521.39,269.55 L522.08,269.73 L522.78,269.91 L523.47,270.08 L524.17,270.25 L524.86,270.42 L525.56,270.59 L526.26,270.76 L526.96,270.92 L527.66,271.08 L528.36,271.24 L529.06,271.40 L529.76,271.56 L530.46,271.71 L531.16,271.87 L531.86,272.02 L532.56,272.17 L533.27,272.31 L533.97,272.46 L534.67,272.60 L535.37,272.75 L536.08,272.89 L536.78,273.03 L537.48,273.16 L538.18,273.30 L538.89,273.43 L539.59,273.57 L540.29,273.70 L541.00,273.83 L541.70,273.95 L542.40,274.08 L543.10,274.21 L543.81,274.33 L544.51,274.45 L545.21,274.57 L545.91,274.69 L546.61,274.81 L547.32,274.93 L548.02,275.04 L548.72,275.16 L549.42,275.27 L550.12,275.38 L550.82,275.49 L551.52,275.60 L552.21,275.71 L552.91,275.82 L553.61,275.93 L554.31,276.03 L555.00,276.14 L555.70,276.24 L556.39,276.34 L557.09,276.44 L557.78,276.54 L558.47,276.64 L559.17,276.74 L559.86,276.84 L560.55,276.93 L561.24,277.03 L561.93,277.12 L562.62,277.22 L563.30,277.31 L563.99,277.40 L564.67,277.49 L565.36,277.59 L566.04,277.68 L566.72,277.77 L567.40,277.85 L568.08,277.94" fill="none" stroke="#2ca02c" stroke-width="2" stroke-linejoin="round"/>
<g stroke="#000" stroke-width="0.85" fill="none">
<rect x="61.5" y="9.5" width="270.5" height="282.22"/>
<line x1="62.55" y1="291.72" x2="62.55" y2="294.42"/>
<line x1="146.89" y1="291.72" x2="146.89" y2="294.42"/>
<line x1="231.23" y1="291.72" x2="231.23" y2="294.42"/>
<line x1="315.57" y1="291.72" x2="315.57" y2="294.42"/>
<line x1="83.63" y1="291.72" x2="83.63" y2="293.22"/>
<line x1="104.72" y1="291.72" x2="104.72" y2="293.22"/>
<line x1="125.81" y1="291.72" x2="125.81" y2="293.22"/>
<line x1="167.97" y1="291.72" x2="167.97" y2="293.22"/>
<line x1="189.06" y1="291.72" x2="189.06" y2="293.22"/>
<line x1="210.14" y1="291.72" x2="210.14" y2="293.22"/>
<line x1="252.31" y1="291.72" x2="252.31" y2="293.22"/>
<line x1="273.4" y1="291.72" x2="273.4" y2="293.22"/>
<line x1="294.49" y1="291.72" x2="294.49" y2="293.22"/>
<line x1="62.55" y1="9.5" x2="62.55" y2="6.8"/>
<line x1="146.89" y1="9.5" x2="146.89" y2="6.8"/>
<line x1="231.23" y1="9.5" x2="231.23" y2="6.8"/>
<line x1="315.57" y1="9.5" x2="315.57" y2="6.8"/>
<line x1="83.63" y1="9.5" x2="83.63" y2="8"/>
<line x1="104.72" y1="9.5" x2="104.72" y2="8"/>
<line x1="125.81" y1="9.5" x2="125.81" y2="8"/>
<line x1="167.97" y1="9.5" x2="167.97" y2="8"/>
<line x1="189.06" y1="9.5" x2="189.06" y2="8"/>
<line x1="210.14" y1="9.5" x2="210.14" y2="8"/>
<line x1="252.31" y1="9.5" x2="252.31" y2="8"/>
<line x1="273.4" y1="9.5" x2="273.4" y2="8"/>
<line x1="294.49" y1="9.5" x2="294.49" y2="8"/>
<line x1="61.5" y1="28.1" x2="58.8" y2="28.1"/>
<line x1="61.5" y1="88.6" x2="58.8" y2="88.6"/>
<line x1="61.5" y1="149.1" x2="58.8" y2="149.1"/>
<line x1="61.5" y1="209.6" x2="58.8" y2="209.6"/>
<line x1="61.5" y1="270.1" x2="58.8" y2="270.1"/>
<line x1="61.5" y1="282.2" x2="60" y2="282.2"/>
<line x1="61.5" y1="258" x2="60" y2="258"/>
<line x1="61.5" y1="245.9" x2="60" y2="245.9"/>
<line x1="61.5" y1="233.8" x2="60" y2="233.8"/>
<line x1="61.5" y1="221.7" x2="60" y2="221.7"/>
<line x1="61.5" y1="197.5" x2="60" y2="197.5"/>
<line x1="61.5" y1="185.4" x2="60" y2="185.4"/>
<line x1="61.5" y1="173.3" x2="60" y2="173.3"/>
<line x1="61.5" y1="161.2" x2="60" y2="161.2"/>
<line x1="61.5" y1="137" x2="60" y2="137"/>
<line x1="61.5" y1="124.9" x2="60" y2="124.9"/>
<line x1="61.5" y1="112.8" x2="60" y2="112.8"/>
<line x1="61.5" y1="100.7" x2="60" y2="100.7"/>
<line x1="61.5" y1="76.5" x2="60" y2="76.5"/>
<line x1="61.5" y1="64.4" x2="60" y2="64.4"/>
<line x1="61.5" y1="52.3" x2="60" y2="52.3"/>
<line x1="61.5" y1="40.2" x2="60" y2="40.2"/>
<line x1="61.5" y1="16" x2="60" y2="16"/>
<line x1="332" y1="28.1" x2="334.7" y2="28.1"/>
<line x1="332" y1="88.6" x2="334.7" y2="88.6"/>
<line x1="332" y1="149.1" x2="334.7" y2="149.1"/>
<line x1="332" y1="209.6" x2="334.7" y2="209.6"/>
<line x1="332" y1="270.1" x2="334.7" y2="270.1"/>
<line x1="332" y1="282.2" x2="333.5" y2="282.2"/>
<line x1="332" y1="258" x2="333.5" y2="258"/>
<line x1="332" y1="245.9" x2="333.5" y2="245.9"/>
<line x1="332" y1="233.8" x2="333.5" y2="233.8"/>
<line x1="332" y1="221.7" x2="333.5" y2="221.7"/>
<line x1="332" y1="197.5" x2="333.5" y2="197.5"/>
<line x1="332" y1="185.4" x2="333.5" y2="185.4"/>
<line x1="332" y1="173.3" x2="333.5" y2="173.3"/>
<line x1="332" y1="161.2" x2="333.5" y2="161.2"/>
<line x1="332" y1="137" x2="333.5" y2="137"/>
<line x1="332" y1="124.9" x2="333.5" y2="124.9"/>
<line x1="332" y1="112.8" x2="333.5" y2="112.8"/>
<line x1="332" y1="100.7" x2="333.5" y2="100.7"/>
<line x1="332" y1="76.5" x2="333.5" y2="76.5"/>
<line x1="332" y1="64.4" x2="333.5" y2="64.4"/>
<line x1="332" y1="52.3" x2="333.5" y2="52.3"/>
<line x1="332" y1="40.2" x2="333.5" y2="40.2"/>
<line x1="332" y1="16" x2="333.5" y2="16"/>
<rect x="386.95" y="9.5" width="189.5" height="282.18"/>
<line x1="399.55" y1="291.68" x2="399.55" y2="294.38"/>
<line x1="451.7" y1="291.68" x2="451.7" y2="294.38"/>
<line x1="503.85" y1="291.68" x2="503.85" y2="294.38"/>
<line x1="556" y1="291.68" x2="556" y2="294.38"/>
<line x1="389.12" y1="291.68" x2="389.12" y2="293.18"/>
<line x1="409.98" y1="291.68" x2="409.98" y2="293.18"/>
<line x1="420.41" y1="291.68" x2="420.41" y2="293.18"/>
<line x1="430.84" y1="291.68" x2="430.84" y2="293.18"/>
<line x1="441.27" y1="291.68" x2="441.27" y2="293.18"/>
<line x1="462.13" y1="291.68" x2="462.13" y2="293.18"/>
<line x1="472.56" y1="291.68" x2="472.56" y2="293.18"/>
<line x1="482.99" y1="291.68" x2="482.99" y2="293.18"/>
<line x1="493.42" y1="291.68" x2="493.42" y2="293.18"/>
<line x1="514.28" y1="291.68" x2="514.28" y2="293.18"/>
<line x1="524.71" y1="291.68" x2="524.71" y2="293.18"/>
<line x1="535.14" y1="291.68" x2="535.14" y2="293.18"/>
<line x1="545.57" y1="291.68" x2="545.57" y2="293.18"/>
<line x1="566.43" y1="291.68" x2="566.43" y2="293.18"/>
<line x1="399.55" y1="9.5" x2="399.55" y2="6.8"/>
<line x1="451.7" y1="9.5" x2="451.7" y2="6.8"/>
<line x1="503.85" y1="9.5" x2="503.85" y2="6.8"/>
<line x1="556" y1="9.5" x2="556" y2="6.8"/>
<line x1="389.12" y1="9.5" x2="389.12" y2="8"/>
<line x1="409.98" y1="9.5" x2="409.98" y2="8"/>
<line x1="420.41" y1="9.5" x2="420.41" y2="8"/>
<line x1="430.84" y1="9.5" x2="430.84" y2="8"/>
<line x1="441.27" y1="9.5" x2="441.27" y2="8"/>
<line x1="462.13" y1="9.5" x2="462.13" y2="8"/>
<line x1="472.56" y1="9.5" x2="472.56" y2="8"/>
<line x1="482.99" y1="9.5" x2="482.99" y2="8"/>
<line x1="493.42" y1="9.5" x2="493.42" y2="8"/>
<line x1="514.28" y1="9.5" x2="514.28" y2="8"/>
<line x1="524.71" y1="9.5" x2="524.71" y2="8"/>
<line x1="535.14" y1="9.5" x2="535.14" y2="8"/>
<line x1="545.57" y1="9.5" x2="545.57" y2="8"/>
<line x1="566.43" y1="9.5" x2="566.43" y2="8"/>
<line x1="386.95" y1="278.8" x2="384.25" y2="278.8"/>
<line x1="386.95" y1="246.63" x2="384.25" y2="246.63"/>
<line x1="386.95" y1="214.46" x2="384.25" y2="214.46"/>
<line x1="386.95" y1="182.3" x2="384.25" y2="182.3"/>
<line x1="386.95" y1="150.13" x2="384.25" y2="150.13"/>
<line x1="386.95" y1="117.96" x2="384.25" y2="117.96"/>
<line x1="386.95" y1="85.79" x2="384.25" y2="85.79"/>
<line x1="386.95" y1="53.62" x2="384.25" y2="53.62"/>
<line x1="386.95" y1="21.46" x2="384.25" y2="21.46"/>
<line x1="386.95" y1="286.84" x2="385.45" y2="286.84"/>
<line x1="386.95" y1="270.76" x2="385.45" y2="270.76"/>
<line x1="386.95" y1="262.72" x2="385.45" y2="262.72"/>
<line x1="386.95" y1="254.67" x2="385.45" y2="254.67"/>
<line x1="386.95" y1="238.59" x2="385.45" y2="238.59"/>
<line x1="386.95" y1="230.55" x2="385.45" y2="230.55"/>
<line x1="386.95" y1="222.51" x2="385.45" y2="222.51"/>
<line x1="386.95" y1="206.42" x2="385.45" y2="206.42"/>
<line x1="386.95" y1="198.38" x2="385.45" y2="198.38"/>
<line x1="386.95" y1="190.34" x2="385.45" y2="190.34"/>
<line x1="386.95" y1="174.25" x2="385.45" y2="174.25"/>
<line x1="386.95" y1="166.21" x2="385.45" y2="166.21"/>
<line x1="386.95" y1="158.17" x2="385.45" y2="158.17"/>
<line x1="386.95" y1="142.09" x2="385.45" y2="142.09"/>
<line x1="386.95" y1="134.04" x2="385.45" y2="134.04"/>
<line x1="386.95" y1="126" x2="385.45" y2="126"/>
<line x1="386.95" y1="109.92" x2="385.45" y2="109.92"/>
<line x1="386.95" y1="101.88" x2="385.45" y2="101.88"/>
<line x1="386.95" y1="93.83" x2="385.45" y2="93.83"/>
<line x1="386.95" y1="77.75" x2="385.45" y2="77.75"/>
<line x1="386.95" y1="69.71" x2="385.45" y2="69.71"/>
<line x1="386.95" y1="61.67" x2="385.45" y2="61.67"/>
<line x1="386.95" y1="45.58" x2="385.45" y2="45.58"/>
<line x1="386.95" y1="37.54" x2="385.45" y2="37.54"/>
<line x1="386.95" y1="29.5" x2="385.45" y2="29.5"/>
<line x1="386.95" y1="13.41" x2="385.45" y2="13.41"/>
<line x1="576.45" y1="278.8" x2="579.15" y2="278.8"/>
<line x1="576.45" y1="246.63" x2="579.15" y2="246.63"/>
<line x1="576.45" y1="214.46" x2="579.15" y2="214.46"/>
<line x1="576.45" y1="182.3" x2="579.15" y2="182.3"/>
<line x1="576.45" y1="150.13" x2="579.15" y2="150.13"/>
<line x1="576.45" y1="117.96" x2="579.15" y2="117.96"/>
<line x1="576.45" y1="85.79" x2="579.15" y2="85.79"/>
<line x1="576.45" y1="53.62" x2="579.15" y2="53.62"/>
<line x1="576.45" y1="21.46" x2="579.15" y2="21.46"/>
<line x1="576.45" y1="286.84" x2="577.95" y2="286.84"/>
<line x1="576.45" y1="270.76" x2="577.95" y2="270.76"/>
<line x1="576.45" y1="262.72" x2="577.95" y2="262.72"/>
<line x1="576.45" y1="254.67" x2="577.95" y2="254.67"/>
<line x1="576.45" y1="238.59" x2="577.95" y2="238.59"/>
<line x1="576.45" y1="230.55" x2="577.95" y2="230.55"/>
<line x1="576.45" y1="222.51" x2="577.95" y2="222.51"/>
<line x1="576.45" y1="206.42" x2="577.95" y2="206.42"/>
<line x1="576.45" y1="198.38" x2="577.95" y2="198.38"/>
<line x1="576.45" y1="190.34" x2="577.95" y2="190.34"/>
<line x1="576.45" y1="174.25" x2="577.95" y2="174.25"/>
<line x1="576.45" y1="166.21" x2="577.95" y2="166.21"/>
<line x1="576.45" y1="158.17" x2="577.95" y2="158.17"/>
<line x1="576.45" y1="142.09" x2="577.95" y2="142.09"/>
<line x1="576.45" y1="134.04" x2="577.95" y2="134.04"/>
<line x1="576.45" y1="126" x2="577.95" y2="126"/>
<line x1="576.45" y1="109.92" x2="577.95" y2="109.92"/>
<line x1="576.45" y1="101.88" x2="577.95" y2="101.88"/>
<line x1="576.45" y1="93.83" x2="577.95" y2="93.83"/>
<line x1="576.45" y1="77.75" x2="577.95" y2="77.75"/>
<line x1="576.45" y1="69.71" x2="577.95" y2="69.71"/>
<line x1="576.45" y1="61.67" x2="577.95" y2="61.67"/>
<line x1="576.45" y1="45.58" x2="577.95" y2="45.58"/>
<line x1="576.45" y1="37.54" x2="577.95" y2="37.54"/>
<line x1="576.45" y1="29.5" x2="577.95" y2="29.5"/>
<line x1="576.45" y1="13.41" x2="577.95" y2="13.41"/>
</g>
<g font-family='"Liberation Serif", serif' fill="#000">
<text transform="translate(55.4,32.6) scale(0.95,1)" font-size="14" text-anchor="end">0.05</text>
<text transform="translate(55.4,93.1) scale(0.95,1)" font-size="14" text-anchor="end">0.00</text>
<text transform="translate(55.4,153.6) scale(0.95,1)" font-size="14" text-anchor="end">0.05</text>
<rect x="24.3" y="149.53" width="7.1" height="0.95" fill="#000"/>
<text transform="translate(55.4,214.1) scale(0.95,1)" font-size="14" text-anchor="end">0.10</text>
<rect x="24.3" y="210.03" width="7.1" height="0.95" fill="#000"/>
<text transform="translate(55.4,274.6) scale(0.95,1)" font-size="14" text-anchor="end">0.15</text>
<rect x="24.3" y="270.52" width="7.1" height="0.95" fill="#000"/>
<text transform="translate(61.95,305.9) scale(0.95,1)" font-size="14" text-anchor="middle">0.2</text>
<text transform="translate(146.29,305.9) scale(0.95,1)" font-size="14" text-anchor="middle">0.4</text>
<text transform="translate(230.63,305.9) scale(0.95,1)" font-size="14" text-anchor="middle">0.6</text>
<text transform="translate(314.97,305.9) scale(0.95,1)" font-size="14" text-anchor="middle">0.8</text>
<text transform="translate(381.5,283.3) scale(0.95,1)" font-size="14" text-anchor="end">0.00</text>
<text transform="translate(381.5,251.13) scale(0.95,1)" font-size="14" text-anchor="end">0.02</text>
<text transform="translate(381.5,218.96) scale(0.95,1)" font-size="14" text-anchor="end">0.04</text>
<text transform="translate(381.5,186.8) scale(0.95,1)" font-size="14" text-anchor="end">0.06</text>
<text transform="translate(381.5,154.63) scale(0.95,1)" font-size="14" text-anchor="end">0.08</text>
<text transform="translate(381.5,122.46) scale(0.95,1)" font-size="14" text-anchor="end">0.10</text>
<text transform="translate(381.5,90.29) scale(0.95,1)" font-size="14" text-anchor="end">0.12</text>
<text transform="translate(381.5,58.12) scale(0.95,1)" font-size="14" text-anchor="end">0.14</text>
<text transform="translate(381.5,25.96) scale(0.95,1)" font-size="14" text-anchor="end">0.16</text>
<text transform="translate(399.15,305.9) scale(0.95,1)" font-size="14" text-anchor="middle">0</text>
<text transform="translate(451.3,305.9) scale(0.95,1)" font-size="14" text-anchor="middle">10</text>
<text transform="translate(503.45,305.9) scale(0.95,1)" font-size="14" text-anchor="middle">20</text>
<text transform="translate(555.6,305.9) scale(0.95,1)" font-size="14" text-anchor="middle">30</text>
<text transform="translate(196.6,321.6)" font-size="14.5" text-anchor="middle" font-style="italic">e</text>
<text transform="translate(481.6,321.8)" font-size="15" text-anchor="middle" font-style="italic">λ</text>
<text transform="translate(16.35,180.7) rotate(-90) scale(1.2,1)" font-size="15" text-anchor="start">Σ</text>
<text transform="translate(19.25,170.5) rotate(-90) scale(1.09,1)" font-size="11" text-anchor="start">tot.</text>
<text transform="translate(16.35,149.93) rotate(-90)" font-size="16.6" text-anchor="start">(</text>
<text transform="translate(16.35,144.36) rotate(-90)" font-size="14" text-anchor="start" font-style="italic">q</text>
<text transform="translate(16.35,137.58) rotate(-90)" font-size="14" text-anchor="start">,</text>
<text transform="translate(16.35,132.33) rotate(-90)" font-size="14" text-anchor="start" font-style="italic">e</text>
<text transform="translate(16.35,125.13) rotate(-90)" font-size="16.6" text-anchor="start">)</text>
<text transform="translate(350.9,163.25) rotate(-90)" font-size="14" text-anchor="start" font-style="italic">ρ</text>
<text transform="translate(350.9,155.13) rotate(-90)" font-size="16.6" text-anchor="start">(</text>
<text transform="translate(350.9,150) rotate(-90) scale(1.15,1)" font-size="14.5" text-anchor="start" font-style="italic">λ</text>
<text transform="translate(350.9,142.33) rotate(-90)" font-size="16.6" text-anchor="start">)</text>
</g>
<rect x="68.6" y="196.8" width="105.2" height="87.5" rx="2.8" ry="2.8" fill="#fff" fill-opacity="0.8" stroke="#d0d0d0" stroke-width="1"/>
<line x1="74.4" y1="207.9" x2="104.3" y2="207.9" stroke="#000" stroke-width="1.7" stroke-dasharray="1.7 2.8"/>
<line x1="73.7" y1="228.6" x2="104.3" y2="228.6" stroke="#1f77b4" stroke-width="2"/>
<line x1="73.7" y1="249.3" x2="104.3" y2="249.3" stroke="#ff7f0e" stroke-width="2"/>
<line x1="73.7" y1="270" x2="104.3" y2="270" stroke="#2ca02c" stroke-width="2"/>
<g font-family='"Liberation Serif", serif' fill="#000">
<text x="115.8" y="213.2" font-size="14" font-style="italic">e</text>
<polygon points="127.1,210.3 127.95,212.34 130.14,212.51 128.47,213.94 128.98,216.09 127.1,214.94 125.22,216.09 125.73,213.94 124.06,212.51 126.25,212.34" fill="#000"/>
<text transform="translate(115.32,233.6) scale(1.12,1)" font-size="14.4" text-anchor="start" font-style="italic">α</text>
<text transform="translate(126.76,234.8) scale(1.45,1)" font-size="14.4" text-anchor="start">=</text>
<text transform="translate(140.7,233.6) scale(1.03,1)" font-size="14.4" text-anchor="start">4.0</text>
<text transform="translate(115.32,254.3) scale(1.12,1)" font-size="14.4" text-anchor="start" font-style="italic">α</text>
<text transform="translate(126.76,255.5) scale(1.45,1)" font-size="14.4" text-anchor="start">=</text>
<text transform="translate(140.7,254.3) scale(1.03,1)" font-size="14.4" text-anchor="start">4.55</text>
<text transform="translate(115.32,275) scale(1.12,1)" font-size="14.4" text-anchor="start" font-style="italic">α</text>
<text transform="translate(126.76,276.2) scale(1.45,1)" font-size="14.4" text-anchor="start">=</text>
<text transform="translate(140.7,275) scale(1.03,1)" font-size="14.4" text-anchor="start">5.0</text>
</g>
<rect x="464.4" y="16" width="104.6" height="66.6" rx="2.8" ry="2.8" fill="#fff" fill-opacity="0.8" stroke="#d0d0d0" stroke-width="1"/>
<rect x="480.2" y="23.1" width="9" height="9" fill="#fff" stroke="#1f77b4" stroke-width="2.1"/>
<rect x="480.2" y="43.7" width="9" height="9" fill="#fff" stroke="#ff7f0e" stroke-width="2.1"/>
<rect x="480.2" y="64.3" width="9" height="9" fill="#fff" stroke="#2ca02c" stroke-width="2.1"/>
<g font-family='"Liberation Serif", serif' fill="#000">
<text transform="translate(510.32,33) scale(1.12,1)" font-size="14.4" text-anchor="start" font-style="italic">α</text>
<text transform="translate(521.76,34.2) scale(1.45,1)" font-size="14.4" text-anchor="start">=</text>
<text transform="translate(535.7,33) scale(1.03,1)" font-size="14.4" text-anchor="start">4.0</text>
<text transform="translate(510.32,53.6) scale(1.12,1)" font-size="14.4" text-anchor="start" font-style="italic">α</text>
<text transform="translate(521.76,54.8) scale(1.45,1)" font-size="14.4" text-anchor="start">=</text>
<text transform="translate(535.7,53.6) scale(1.03,1)" font-size="14.4" text-anchor="start">4.55</text>
<text transform="translate(510.32,74.2) scale(1.12,1)" font-size="14.4" text-anchor="start" font-style="italic">α</text>
<text transform="translate(521.76,75.4) scale(1.45,1)" font-size="14.4" text-anchor="start">=</text>
<text transform="translate(535.7,74.2) scale(1.03,1)" font-size="14.4" text-anchor="start">5.0</text>
</g>
<g font-family='"Liberation Serif", serif' fill="#000">
<rect x="613.3" y="9.4" width="108.3" height="72.1" fill="none" stroke="#1f77b4" stroke-width="3"/>
<text transform="translate(607.5,13.8)" font-size="11.4" text-anchor="end">2.5</text>
<text transform="translate(607.5,86)" font-size="11.4" text-anchor="end">2.5</text>
<rect x="587" y="82.45" width="6.2" height="0.9" fill="#000"/>
<text transform="translate(623.5,93.6)" font-size="11.4" text-anchor="end">2.5</text>
<rect x="602.8" y="90.95" width="6.4" height="0.9" fill="#000"/>
<text transform="translate(721.6,93.6)" font-size="11.4" text-anchor="middle">2.5</text>
<text transform="translate(667.45,93.3)" font-size="12" text-anchor="middle" font-style="italic">y</text>
<text transform="translate(593.4,52.7) rotate(-90)" font-size="12" text-anchor="start" font-style="italic">y</text>
<polygon points="584.3,42.7 585.89,42.04 586.03,40.32 587.15,41.63 588.82,41.23 587.92,42.7 588.82,44.17 587.15,43.77 586.03,45.08 585.89,43.36" fill="#000"/>
<rect x="613.3" y="114.2" width="108.3" height="72.3" fill="none" stroke="#ff7f0e" stroke-width="3"/>
<text transform="translate(607.5,118.6)" font-size="11.4" text-anchor="end">2.5</text>
<text transform="translate(607.5,191)" font-size="11.4" text-anchor="end">2.5</text>
<rect x="587" y="187.45" width="6.2" height="0.9" fill="#000"/>
<text transform="translate(623.5,198.6)" font-size="11.4" text-anchor="end">2.5</text>
<rect x="602.8" y="195.95" width="6.4" height="0.9" fill="#000"/>
<text transform="translate(721.6,198.6)" font-size="11.4" text-anchor="middle">2.5</text>
<text transform="translate(667.45,198.3)" font-size="12" text-anchor="middle" font-style="italic">y</text>
<text transform="translate(593.4,157.6) rotate(-90)" font-size="12" text-anchor="start" font-style="italic">y</text>
<polygon points="584.3,147.6 585.89,146.94 586.03,145.22 587.15,146.53 588.82,146.13 587.92,147.6 588.82,149.07 587.15,148.67 586.03,149.98 585.89,148.26" fill="#000"/>
<rect x="613.3" y="219.2" width="108.3" height="72.3" fill="none" stroke="#2ca02c" stroke-width="3"/>
<text transform="translate(607.5,223.6)" font-size="11.4" text-anchor="end">2.5</text>
<text transform="translate(607.5,296)" font-size="11.4" text-anchor="end">2.5</text>
<rect x="587" y="292.45" width="6.2" height="0.9" fill="#000"/>
<text transform="translate(623.5,303.6)" font-size="11.4" text-anchor="end">2.5</text>
<rect x="602.8" y="300.95" width="6.4" height="0.9" fill="#000"/>
<text transform="translate(721.6,303.6)" font-size="11.4" text-anchor="middle">2.5</text>
<text transform="translate(667.45,303.3)" font-size="12" text-anchor="middle" font-style="italic">y</text>
<text transform="translate(593.4,262.6) rotate(-90)" font-size="12" text-anchor="start" font-style="italic">y</text>
<polygon points="584.3,252.6 585.89,251.94 586.03,250.22 587.15,251.53 588.82,251.13 587.92,252.6 588.82,254.07 587.15,253.67 586.03,254.98 585.89,253.26" fill="#000"/>
</g>
<g stroke="#000" stroke-width="0.8">
<line x1="613.3" y1="83" x2="613.3" y2="85"/>
<line x1="613.3" y1="7.9" x2="613.3" y2="5.9"/>
<line x1="721.6" y1="83" x2="721.6" y2="85"/>
<line x1="721.6" y1="7.9" x2="721.6" y2="5.9"/>
<line x1="611.8" y1="9.4" x2="609.8" y2="9.4"/>
<line x1="723.1" y1="9.4" x2="725.1" y2="9.4"/>
<line x1="611.8" y1="81.5" x2="609.8" y2="81.5"/>
<line x1="723.1" y1="81.5" x2="725.1" y2="81.5"/>
<line x1="634.96" y1="83" x2="634.96" y2="84.3" stroke-width="0.6"/>
<line x1="634.96" y1="7.9" x2="634.96" y2="6.6" stroke-width="0.6"/>
<line x1="611.8" y1="67.08" x2="610.5" y2="67.08" stroke-width="0.6"/>
<line x1="723.1" y1="67.08" x2="724.4" y2="67.08" stroke-width="0.6"/>
<line x1="656.62" y1="83" x2="656.62" y2="84.3" stroke-width="0.6"/>
<line x1="656.62" y1="7.9" x2="656.62" y2="6.6" stroke-width="0.6"/>
<line x1="611.8" y1="52.66" x2="610.5" y2="52.66" stroke-width="0.6"/>
<line x1="723.1" y1="52.66" x2="724.4" y2="52.66" stroke-width="0.6"/>
<line x1="678.28" y1="83" x2="678.28" y2="84.3" stroke-width="0.6"/>
<line x1="678.28" y1="7.9" x2="678.28" y2="6.6" stroke-width="0.6"/>
<line x1="611.8" y1="38.24" x2="610.5" y2="38.24" stroke-width="0.6"/>
<line x1="723.1" y1="38.24" x2="724.4" y2="38.24" stroke-width="0.6"/>
<line x1="699.94" y1="83" x2="699.94" y2="84.3" stroke-width="0.6"/>
<line x1="699.94" y1="7.9" x2="699.94" y2="6.6" stroke-width="0.6"/>
<line x1="611.8" y1="23.82" x2="610.5" y2="23.82" stroke-width="0.6"/>
<line x1="723.1" y1="23.82" x2="724.4" y2="23.82" stroke-width="0.6"/>
<line x1="613.3" y1="188" x2="613.3" y2="190"/>
<line x1="613.3" y1="112.7" x2="613.3" y2="110.7"/>
<line x1="721.6" y1="188" x2="721.6" y2="190"/>
<line x1="721.6" y1="112.7" x2="721.6" y2="110.7"/>
<line x1="611.8" y1="114.2" x2="609.8" y2="114.2"/>
<line x1="723.1" y1="114.2" x2="725.1" y2="114.2"/>
<line x1="611.8" y1="186.5" x2="609.8" y2="186.5"/>
<line x1="723.1" y1="186.5" x2="725.1" y2="186.5"/>
<line x1="634.96" y1="188" x2="634.96" y2="189.3" stroke-width="0.6"/>
<line x1="634.96" y1="112.7" x2="634.96" y2="111.4" stroke-width="0.6"/>
<line x1="611.8" y1="172.04" x2="610.5" y2="172.04" stroke-width="0.6"/>
<line x1="723.1" y1="172.04" x2="724.4" y2="172.04" stroke-width="0.6"/>
<line x1="656.62" y1="188" x2="656.62" y2="189.3" stroke-width="0.6"/>
<line x1="656.62" y1="112.7" x2="656.62" y2="111.4" stroke-width="0.6"/>
<line x1="611.8" y1="157.58" x2="610.5" y2="157.58" stroke-width="0.6"/>
<line x1="723.1" y1="157.58" x2="724.4" y2="157.58" stroke-width="0.6"/>
<line x1="678.28" y1="188" x2="678.28" y2="189.3" stroke-width="0.6"/>
<line x1="678.28" y1="112.7" x2="678.28" y2="111.4" stroke-width="0.6"/>
<line x1="611.8" y1="143.12" x2="610.5" y2="143.12" stroke-width="0.6"/>
<line x1="723.1" y1="143.12" x2="724.4" y2="143.12" stroke-width="0.6"/>
<line x1="699.94" y1="188" x2="699.94" y2="189.3" stroke-width="0.6"/>
<line x1="699.94" y1="112.7" x2="699.94" y2="111.4" stroke-width="0.6"/>
<line x1="611.8" y1="128.66" x2="610.5" y2="128.66" stroke-width="0.6"/>
<line x1="723.1" y1="128.66" x2="724.4" y2="128.66" stroke-width="0.6"/>
<line x1="613.3" y1="293" x2="613.3" y2="295"/>
<line x1="613.3" y1="217.7" x2="613.3" y2="215.7"/>
<line x1="721.6" y1="293" x2="721.6" y2="295"/>
<line x1="721.6" y1="217.7" x2="721.6" y2="215.7"/>
<line x1="611.8" y1="219.2" x2="609.8" y2="219.2"/>
<line x1="723.1" y1="219.2" x2="725.1" y2="219.2"/>
<line x1="611.8" y1="291.5" x2="609.8" y2="291.5"/>
<line x1="723.1" y1="291.5" x2="725.1" y2="291.5"/>
<line x1="634.96" y1="293" x2="634.96" y2="294.3" stroke-width="0.6"/>
<line x1="634.96" y1="217.7" x2="634.96" y2="216.4" stroke-width="0.6"/>
<line x1="611.8" y1="277.04" x2="610.5" y2="277.04" stroke-width="0.6"/>
<line x1="723.1" y1="277.04" x2="724.4" y2="277.04" stroke-width="0.6"/>
<line x1="656.62" y1="293" x2="656.62" y2="294.3" stroke-width="0.6"/>
<line x1="656.62" y1="217.7" x2="656.62" y2="216.4" stroke-width="0.6"/>
<line x1="611.8" y1="262.58" x2="610.5" y2="262.58" stroke-width="0.6"/>
<line x1="723.1" y1="262.58" x2="724.4" y2="262.58" stroke-width="0.6"/>
<line x1="678.28" y1="293" x2="678.28" y2="294.3" stroke-width="0.6"/>
<line x1="678.28" y1="217.7" x2="678.28" y2="216.4" stroke-width="0.6"/>
<line x1="611.8" y1="248.12" x2="610.5" y2="248.12" stroke-width="0.6"/>
<line x1="723.1" y1="248.12" x2="724.4" y2="248.12" stroke-width="0.6"/>
<line x1="699.94" y1="293" x2="699.94" y2="294.3" stroke-width="0.6"/>
<line x1="699.94" y1="217.7" x2="699.94" y2="216.4" stroke-width="0.6"/>
<line x1="611.8" y1="233.66" x2="610.5" y2="233.66" stroke-width="0.6"/>
<line x1="723.1" y1="233.66" x2="724.4" y2="233.66" stroke-width="0.6"/>
</g>
<defs><linearGradient id="vir" x1="0" y1="1" x2="0" y2="0"><stop offset="0" stop-color="#440154"/><stop offset="0.06" stop-color="#48186a"/><stop offset="0.12" stop-color="#472d7b"/><stop offset="0.19" stop-color="#424086"/><stop offset="0.25" stop-color="#3b528b"/><stop offset="0.31" stop-color="#33638d"/><stop offset="0.38" stop-color="#2c728e"/><stop offset="0.44" stop-color="#26828e"/><stop offset="0.5" stop-color="#21918c"/><stop offset="0.56" stop-color="#1f9f88"/><stop offset="0.62" stop-color="#27ad81"/><stop offset="0.69" stop-color="#3dbc74"/><stop offset="0.75" stop-color="#5cc863"/><stop offset="0.81" stop-color="#81d34d"/><stop offset="0.88" stop-color="#aadc32"/><stop offset="0.94" stop-color="#d5e21a"/><stop offset="1" stop-color="#fde725"/></linearGradient></defs>
<rect x="733.7" y="42.1" width="11.3" height="216.6" fill="url(#vir)" stroke="#222" stroke-width="0.8"/>
<g stroke="#000" stroke-width="0.8">
<line x1="745" y1="258.7" x2="747.7" y2="258.7"/>
<line x1="745" y1="252.51" x2="746.5" y2="252.51"/>
<line x1="745" y1="246.32" x2="746.5" y2="246.32"/>
<line x1="745" y1="240.13" x2="746.5" y2="240.13"/>
<line x1="745" y1="233.95" x2="746.5" y2="233.95"/>
<line x1="745" y1="227.76" x2="747.7" y2="227.76"/>
<line x1="745" y1="221.57" x2="746.5" y2="221.57"/>
<line x1="745" y1="215.38" x2="746.5" y2="215.38"/>
<line x1="745" y1="209.19" x2="746.5" y2="209.19"/>
<line x1="745" y1="203" x2="746.5" y2="203"/>
<line x1="745" y1="196.81" x2="747.7" y2="196.81"/>
<line x1="745" y1="190.63" x2="746.5" y2="190.63"/>
<line x1="745" y1="184.44" x2="746.5" y2="184.44"/>
<line x1="745" y1="178.25" x2="746.5" y2="178.25"/>
<line x1="745" y1="172.06" x2="746.5" y2="172.06"/>
<line x1="745" y1="165.87" x2="747.7" y2="165.87"/>
<line x1="745" y1="159.68" x2="746.5" y2="159.68"/>
<line x1="745" y1="153.49" x2="746.5" y2="153.49"/>
<line x1="745" y1="147.31" x2="746.5" y2="147.31"/>
<line x1="745" y1="141.12" x2="746.5" y2="141.12"/>
<line x1="745" y1="134.93" x2="747.7" y2="134.93"/>
<line x1="745" y1="128.74" x2="746.5" y2="128.74"/>
<line x1="745" y1="122.55" x2="746.5" y2="122.55"/>
<line x1="745" y1="116.36" x2="746.5" y2="116.36"/>
<line x1="745" y1="110.17" x2="746.5" y2="110.17"/>
<line x1="745" y1="103.99" x2="747.7" y2="103.99"/>
<line x1="745" y1="97.8" x2="746.5" y2="97.8"/>
<line x1="745" y1="91.61" x2="746.5" y2="91.61"/>
<line x1="745" y1="85.42" x2="746.5" y2="85.42"/>
<line x1="745" y1="79.23" x2="746.5" y2="79.23"/>
<line x1="745" y1="73.04" x2="747.7" y2="73.04"/>
<line x1="745" y1="66.85" x2="746.5" y2="66.85"/>
<line x1="745" y1="60.67" x2="746.5" y2="60.67"/>
<line x1="745" y1="54.48" x2="746.5" y2="54.48"/>
<line x1="745" y1="48.29" x2="746.5" y2="48.29"/>
<line x1="745" y1="42.1" x2="747.7" y2="42.1"/>
<line x1="745" y1="258.7" x2="747.7" y2="258.7"/>
<line x1="745" y1="227.76" x2="747.7" y2="227.76"/>
<line x1="745" y1="196.81" x2="747.7" y2="196.81"/>
<line x1="745" y1="165.87" x2="747.7" y2="165.87"/>
<line x1="745" y1="134.93" x2="747.7" y2="134.93"/>
<line x1="745" y1="103.99" x2="747.7" y2="103.99"/>
<line x1="745" y1="73.04" x2="747.7" y2="73.04"/>
<line x1="745" y1="42.1" x2="747.7" y2="42.1"/>
</g>
<g font-family='"Liberation Serif", serif' fill="#000">
<text transform="translate(750.2,262.4) scale(0.95,1)" font-size="13" text-anchor="start">0.0</text>
<text transform="translate(750.2,231.46) scale(0.95,1)" font-size="13" text-anchor="start">0.1</text>
<text transform="translate(750.2,200.51) scale(0.95,1)" font-size="13" text-anchor="start">0.2</text>
<text transform="translate(750.2,169.57) scale(0.95,1)" font-size="13" text-anchor="start">0.3</text>
<text transform="translate(750.2,138.63) scale(0.95,1)" font-size="13" text-anchor="start">0.4</text>
<text transform="translate(750.2,107.69) scale(0.95,1)" font-size="13" text-anchor="start">0.5</text>
<text transform="translate(750.2,76.74) scale(0.95,1)" font-size="13" text-anchor="start">0.6</text>
<text transform="translate(750.2,45.8) scale(0.95,1)" font-size="13" text-anchor="start">0.7</text>
<text transform="translate(782.6,173.01) rotate(-90)" font-size="15" text-anchor="start" font-style="italic">ν</text>
<text transform="translate(782.6,166.36) rotate(-90)" font-size="15" text-anchor="start">(</text>
<text transform="translate(782.6,158.85) rotate(-90)" font-size="15" text-anchor="start" font-style="italic">y</text>
<text transform="translate(782.6,153.7) rotate(-90)" font-size="15" text-anchor="start">,</text>
<text transform="translate(782.6,148.16) rotate(-90)" font-size="15" text-anchor="start" font-style="italic">y</text>
<text transform="translate(782.6,135.18) rotate(-90)" font-size="15" text-anchor="start">)</text>
<polygon points="772.2,138 773.85,137.31 774,135.53 775.16,136.89 776.9,136.47 775.97,138 776.9,139.53 775.16,139.11 774,140.47 773.85,138.69" fill="#000"/>
</g>
</svg></div>
<script>
(function(){
var V="44015444025645045745055946075a46085c460a5d460b5e470d60470e6147106347116447136548146748166848176948186a481a6c481b6d481c6e481d6f481f70482071482173482374482475482576482677482878482979472a7a472c7a472d7b472e7c472f7d46307e46327e46337f463480453581453781453882443983443a83443b84433d84433e85423f854240864241864142874144874045884046883f47883f48893e49893e4a893e4c8a3d4d8a3d4e8a3c4f8a3c508b3b518b3b528b3a538b3a548c39558c39568c38588c38598c375a8c375b8d365c8d365d8d355e8d355f8d34608d34618d33628d33638d32648e32658e31668e31678e31688e30698e306a8e2f6b8e2f6c8e2e6d8e2e6e8e2e6f8e2d708e2d718e2c718e2c728e2c738e2b748e2b758e2a768e2a778e2a788e29798e297a8e297b8e287c8e287d8e277e8e277f8e27808e26818e26828e26828e25838e25848e25858e24868e24878e23888e23898e238a8d228b8d228c8d228d8d218e8d218f8d21908d21918c20928c20928c20938c1f948c1f958b1f968b1f978b1f988b1f998a1f9a8a1e9b8a1e9c891e9d891f9e891f9f881fa0881fa1881fa1871fa28720a38620a48621a58521a68522a78522a88423a98324aa8325ab8225ac8226ad8127ad8128ae8029af7f2ab07f2cb17e2db27d2eb37c2fb47c31b57b32b67a34b67935b77937b87838b9773aba763bbb753dbc743fbc7340bd7242be7144bf7046c06f48c16e4ac16d4cc26c4ec36b50c46a52c56954c56856c66758c7655ac8645cc8635ec96260ca6063cb5f65cb5e67cc5c69cd5b6ccd5a6ece5870cf5773d05675d05477d1537ad1517cd2507fd34e81d34d84d44b86d54989d5488bd6468ed64590d74393d74195d84098d83e9bd93c9dd93ba0da39a2da37a5db36a8db34aadc32addc30b0dd2fb2dd2db5de2bb8de29bade28bddf26c0df25c2df23c5e021c8e020cae11fcde11dd0e11cd2e21bd5e21ad8e219dae319dde318dfe318e2e418e5e419e7e419eae51aece51befe51cf1e51df4e61ef6e620f8e621fbe723fde725",D="000000000000000000000000000000000000000000010101010101010101010101010101010101010101010101010101010101010101010101010101010101010101010101010101010101010101010102020202020202030303030304040404040505050505050606060606000000000000000000000000000000000000000001010101010101010101010101010101010101010101010101010101010101010101010101010101010101010101010101010101010101010202020202020202030303030304040404040505050505060606060606060606000000000000000000000000000000000000000101010101010101010101010101010101010101010202020202020202020202020202020202020202020202020202020202020202020202020202020202030303030304040404050505050506060606060607070707070707000000000000000000000000000000000000000101010101010101010101010202020202020202020202020202020202020202020202020202020202020202020202020202020202020202020202030303030304040404050505050506060606070707070707070707070707000000000000000000000000000000000000000101010101010202020202020202020202020202020202020202020202020303030303030303030302020202020202020202020202030303030303030304040404050505050606060607070707070808080808080808080808000000000000000000000000000000000000000101010101020202020202020202020202030303030303030303030303030303030303030303030303030303030303030303030303030303030404040404050505050606060707070708080808080809090909090909090909000000000000000000000000000000000000000101010102020202020203030303030303030303030303030303040404040404040404040404040404040404040404040404040404040404040405050505060606070707070808080809090909090909090a0a0a0a0a090909000000000000000000000000000000000000000101010102020203030303030303030304040404040404040404040404040404040404040404040404040404040404040404040405050505050506060606070707080808090909090a0a0a0a0a0a0a0a0a0a0a0a0a0a0a0a0a00000000000000000000000000000000000000000101010202030303030404040404040404040505050505050505050505050505050505050505050505050505050505050505050606060606070707070808080909090a0a0a0a0b0b0b0b0b0b0b0b0b0b0b0b0b0b0b0b0a0a0000000000000000000000000000000000000000010101020203030404040405050505050505050506060606060606060606060606060606060606060606060606060606060607070707070808080909090a0a0a0b0b0b0b0c0c0c0c0c0c0d0d0d0d0d0d0c0c0c0c0b0b0a0a00000000000000000000000000000000000000000001010202030404050505050506060606060606070707070707070707070707070707070707070707070707070707070808080808090909090a0a0b0b0b0c0c0c0d0d0d0d0d0e0e0e0e0e0e0e0e0e0e0d0d0d0c0b0b0a0900000000000000000000000000000000000000000001010202030405050606060607070707070707080808080808080808080808090909090909080808080808090909090909090a0a0a0b0b0b0c0c0c0d0d0d0e0e0e0f0f0f0f0f0f0f0f0f0f0f0f0f0f0e0e0d0c0b0a0908000000000000000000000000000000000000000000000101020304050607070707080808080809090909090909090a0a0a0a0a0a0a0a0a0a0a0a0a0a0a0a0a0a0a0a0a0a0b0b0b0b0c0c0d0d0d0e0e0f0f0f10101010111111111111111111111110100f0e0d0c0b0a090806000000000000000000000000000000000000000000000101020304050607080809090909090a0a0a0a0a0a0b0b0b0b0b0b0b0b0b0b0b0b0b0b0b0b0b0b0b0b0c0c0c0c0c0d0d0d0e0e0e0f0f10101011111212121213131313131313131312121211100f0e0d0b0a0906040200000000000000000000000000000000000000000000000101020405060809090a0a0a0b0b0b0b0b0c0c0c0c0c0c0d0d0d0d0d0d0d0d0d0d0d0d0d0d0d0d0d0d0e0e0e0e0f0f0f101011111212131313141414151515151515151515151414131211100e0d0b090704020101000000000000000000000000000000000000000000000000010203050608090b0b0b0c0c0c0d0d0d0d0d0e0e0e0e0e0e0f0f0f0f0f0f0f0f0f0f0f0f0f0f0f10101010111112121313141415151616161717171717171818171717171616151312100e0d0b080503020101010000000000000000000000000000000000000000000000000001020406080a0b0d0d0d0e0e0e0e0f0f0f10101010101011111111111111111111111111121212121313141415151616171718181919191a1a1a1a1a1a1a1a1a1a191917161412100e0c0805030201010101000000000000000000000000000000000000000000000000000001020305070a0c0e0f0f0f1010101111111112121212121313131313131313131313141414141515161617171819191a1a1b1b1c1c1d1d1d1d1d1d1d1d1d1d1c1c1b19171513100d0906030202010101010000000000000000000000000000000000000000000000000000000001020406090c0e1011111112121313131314141414151515151515151516161616161717171818191a1a1b1c1c1d1e1e1f1f20202020212121212020201f1e1c1a1815120f0a070403020201010100000000000000000000000000000000000000000000000000000000000000010305080b0e1112131314141515151616161617171717171818181818181819191a1a1b1b1c1d1d1e1f202021222223232424242424242424242322201e1b1815100c0705030202010101000000000000000000000000000000000000000000000000000000000000000000000103060a0e1114151516161717181818191919191a1a1a1a1a1a1b1b1b1b1c1c1d1e1e1f20212223232425262627272828282829292828282725221f1b17120d0805040302010101000000000000000000000000000000000000000000000000000000000000000000000000000204080c11151718181919191a1a1b1b1b1c1c1c1c1c1d1d1d1d1e1e1f1f20212222232425262728292a2b2b2c2c2c2d2d2d2d2d2d2c2a27231f1a150e09060403020101010000000000000000000000000000000000000000000000000000000000000000000101010000000102050a0f14181a1a1b1b1c1c1d1d1d1e1e1e1f1f1f1f202020212222232425262728292a2c2d2d2e2f30303131323232323231302d28241e17100a060503020101000000000000000000000000000000000000000000000000000000000000000000000000000001010101000103060c12171b1c1d1e1e1f1f1f202021212121222223232424252627282a2b2c2e2f303132333435353637373738383736332e28221a110b070503020101000000000000000000000000000000000000000000000000000000000000000000000000000000000001010101010103080e151b1e1f2020212122222323232424242526272728292b2c2d2f30323335363738393a3b3c3c3d3e3e3e3d3a352e261c130c0805040201010000000000000000000000000000000000000000000000000000000000000000000000000000000000000000000101010102040a11191f2222232324242525262626262728292a2b2d2e303133353638393b3c3d3f4041424344444544423c342b20150d0806030201000000000000000000000000000000000000000000000000000000000000000000000000000000000000000000000000000001020202050c141d232525262627272728282929292a2c2e3032333537393b3d3f404243454648494a4b4c4c4a453c3023170e0906030201000000000000000000000000000000000000000000000000000000000000000000000000000000000000000000000000000000000001020303070e19232828282829292a2a2b2b2b2c2d2f313537393b3e4042444647494b4d4f51535455544e443727190f09050301000000000000000000000000000000000000000000000000000000000000000000000000000000000000000000000000000000000000000000000103040913202a2d2c2c2c2c2c2c2d2d2e2e2f3135393e40434547494b4d505255585b5d5e5e5a4e3e2b1b1009050201000000000000000000000000000000000000000000000000000000000000000000000000000000000000000000000000000000000000000000000000000001050d1a29333432302f2f2f2f3030313234383e44484a4d4f5254575b5f6366686a665a46301d1008040100000000000000000000000000000000000000000000000000000000000000000000000000000000000000000000000000000000000000000000000000000000000001051123343f3f3b3835333232333334363a414a505356585c60656b707477756950351f10070301000000000000000000000000000000000000000000000000000000000000000000000000000000000000000000000000000000000000000000000000000000000000000000010410273f4b4d49433e3a38373637383c434e585d61656c737b8186877b5d3b200f06020000000000000000000000000000000000000000000000000000000000000000000000000000000000000000000000000000000000000000000000000000000000000000000000000001030a1e40585e5d564e47413e3a3b3e444f5e6a727c8691999c926e42210d040100000000000000000000000000000000000000000000000000000000000000000000000000000000000000000000000000000000000000000000000000000000000000000000000000000000000206102c587277746b604e3f3d3f454f617d95a4b0b7af854b200a02000000000000000000000000000000000000000000000000000000000000000000000000000000000000000000000000000000000000000000000000000000000000000000000000000000000000000000000308133a769aa59c69484241444d6193d3e3d9a5551e0701000000000000000000000000000000000000000000000000000000000000000000000000000000000000000000000000000000000000000000000000000000000000000000000000000000000000000000000000000103081856c9ef97574743444a5ea9ffec6f1d03000000000000000000000000000000000000000000000000000000000000000000000000000000000000000000000000000000000000000000000000000000000000000000000000000000000000000000000000000000000000031d6fecffa95e4a4443475797efc956180803010000000000000000000000000000000000000000000000000000000000000000000000000000000000000000000000000000000000000000000000000000000000000000000000000000000000000000000000000001071e55a5d9e3d393614d44414248699ca59a763a13080300000000000000000000000000000000000000000000000000000000000000000000000000000000000000000000000000000000000000000000000000000000000000000000000000000000000000000000020a204b85afb7b0a4957d614f453f3d3f4e606b747772582c100602000000000000000000000000000000000000000000000000000000000000000000000000000000000000000000000000000000000000000000000000000000000000000000000000000000000001040d21426e929c9991867c726a5e4f443e3b3a3e41474e565d5e58401e0a03010000000000000000000000000000000000000000000000000000000000000000000000000000000000000000000000000000000000000000000000000000000000000000000000000002060f203b5d7b8786817b736c65615d584e433c38373637383a3e43494d4b3f27100401000000000000000000000000000000000000000000000000000000000000000000000000000000000000000000000000000000000000000000000000000000000000000000010307101f355069757774706b65605c585653504a413a3634333332323335383b3f3f3423110501000000000000000000000000000000000000000000000000000000000000000000000000000000000000000000000000000000000000000000000000000000000000010408101d30465a666a6866635f5b5754524f4d4a48443e3834323130302f2f2f2f30323433291a0d0501000000000000000000000000000000000000000000000000000000000000000000000000000000000000000000000000000000000000000000000000000001020509101b2b3e4e5a5e5e5d5b585552504d4b49474543403e3935312f2e2e2d2d2c2c2c2c2c2c2d2a20130904030100000000000000000000000000000000000000000000000000000000000000000000000000000000000000000000000000000000000000000000010305090f192737444e54555453514f4d4b4947464442403e3b393735312f2d2c2b2b2b2a2a29292828282823190e0703030201000000000000000000000000000000000000000000000000000000000000000000000000000000000000000000000000000000000001020306090e1723303c454a4c4c4b4a494846454342403f3d3b3937353332302e2c2a292929282827272726262525231d140c0502020201000000000000000000000000000000000000000000000000000000000000000000000000000000000000000000000000000001020306080d15202b343c4244454444434241403f3d3c3b393836353331302e2d2b2a2928272626262625252424232322221f19110a0402010101010000000000000000000000000000000000000000000000000000000000000000000000000000000000000000000101020405080c131c262e353a3d3e3e3e3d3c3c3b3a39383736353332302f2d2c2b2928272726252424242323232222212120201f1e1b150e080301010101010100000000000000000000000000000000000000000000000000000000000000000000000000000000000101020305070b111a22282e333637383837373736353534333231302f2e2c2b2a282726252424232322222121212120201f1f1f1e1e1d1c1b17120c060301000101010100000000000000000000000000000000000000000000000000000000000000000000000000000101020305060a10171e24282d30313232323232313130302f2e2d2d2c2a292827262524232222212020201f1f1f1f1e1e1e1d1d1d1c1c1b1b1a1a18140f0a05020100000001010100000000000000000000000000000000000000000000000000000000000000000001010102030406090e151a1f23272a2c2d2d2d2d2d2d2c2c2c2b2b2a29282726252423222221201f1f1e1e1d1d1d1d1c1c1c1c1c1b1b1b1a1a19191918181715110c0804020000000000000000000000000000000000000000000000000000000000000000000000000001010102030405080d12171b1f22252728282829292828282827272626252423232221201f1e1e1d1c1c1b1b1b1b1a1a1a1a1a1a1919191918181817171616151514110e0a0603010000000000000000000000000000000000000000000000000000000000000000000001010102020305070c1015181b1e202223242424242424242424232322222120201f1e1d1d1c1b1b1a1a1919181818181818181717171717161616161515151414131312110e0b080503010000000000000000000000000000000000000000000000000000000000000001010102020304070a0f1215181a1c1e1f20202021212121202020201f1f1e1e1d1c1c1b1a1a1918181717171616161616151515151515151514141414131313131212111111100e0c0906040201000000000000000000000000000000000000000000000000000000000101010102020306090d10131517191b1c1c1d1d1d1d1d1d1d1d1d1d1c1c1b1b1a1a1919181717161615151414141413131313131313131313131212121212111111111010100f0f0f0e0c0a0705030201000000000000000000000000000000000000000000000000000001010101020305080c0e101214161719191a1a1a1a1a1a1a1a1a1a19191918181717161615151414131312121212111111111111111111111111111010101010100f0f0f0e0e0e0e0d0d0d0b0a080604020100000000000000000000000000000000000000000000000000010101020305080b0d0e10121315161617171717181817171717171716161615151414131312121111101010100f0f0f0f0f0f0f0f0f0f0f0f0f0f0f0e0e0e0e0e0e0d0d0d0d0d0c0c0c0b0b0b090806050302010000000000000000000000000000000000000000000000000101020407090b0d0e101112131414151515151515151515151414141313131212111110100f0f0f0e0e0e0e0d0d0d0d0d0d0d0d0d0d0d0d0d0d0d0d0d0d0c0c0c0c0c0c0b0b0b0b0b0a0a0a0909080605040201010000000000000000000000000000000000000000000000020406090a0b0d0e0f10111212121313131313131313131212121211111010100f0f0e0e0e0d0d0d0c0c0c0c0c0b0b0b0b0b0b0b0b0b0b0b0b0b0b0b0b0b0b0b0b0a0a0a0a0a0a090909090908080706050403020101000000000000000000000000000000000000000000000608090a0b0c0d0e0f10101111111111111111111111101010100f0f0f0e0e0d0d0d0c0c0b0b0b0b0a0a0a0a0a0a0a0a0a0a0a0a0a0a0a0a0a0a0a0a0a0a0909090909090909080808080807070707060504030201010000000000000000000000000000000000000000000008090a0b0c0d0e0e0f0f0f0f0f0f0f0f0f0f0f0f0f0f0e0e0e0d0d0d0c0c0c0b0b0b0a0a0a0909090909090908080808080809090909090908080808080808080808080807070707070707060606060505040302020101000000000000000000000000000000000000000000090a0b0b0c0d0d0d0e0e0e0e0e0e0e0e0e0e0d0d0d0d0d0c0c0c0b0b0b0a0a09090909080808080807070707070707070707070707070707070707070707070707070707060606060606060505050505040403020201010000000000000000000000000000000000000000000a0a0b0b0c0c0c0c0d0d0d0d0d0d0c0c0c0c0c0c0b0b0b0b0a0a0a0909090808080707070707060606060606060606060606060606060606060606060606060606060606050505050505050505040404040303020201010100000000000000000000000000000000000000000a0a0b0b0b0b0b0b0b0b0b0b0b0b0b0b0b0b0a0a0a0a09090908080807070707060606060605050505050505050505050505050505050505050505050505050505050505050504040404040404040403030303020201010100000000000000000000000000000000000000000a0a0a0a0a0a0a0a0a0a0a0a0a0a0a0a0a090909090808080707070606060605050505050504040404040404040404040404040404040404040404040404040404040404040404040403030303030303030302020201010101000000000000000000000000000000000000000909090a0a0a0a0a09090909090909090808080807070707060606050505050404040404040404040404040404040404040404040404040404040404040404030303030303030303030303030303030202020202020101010100000000000000000000000000000000000000090909090909090909090808080808080707070706060605050505040404040403030303030303030303030303030303030303030303030303030303030303030303030303030303020202020202020202020202010101010100000000000000000000000000000000000000080808080808080808080807070707070606060605050505040404040303030303030303020202020202020202020202020303030303030303030302020202020202020202020202020202020202020202020201010101010100000000000000000000000000000000000000070707070707070707070707060606060505050505040404040303030303020202020202020202020202020202020202020202020202020202020202020202020202020202020202020202020201010101010101010101010100000000000000000000000000000000000000070707070707070606060606060505050505040404040303030303020202020202020202020202020202020202020202020202020202020202020202020202020202020201010101010101010101010101010101010101010100000000000000000000000000000000000000060606060606060606050505050504040404040303030303020202020202020201010101010101010101010101010101010101010101010101010101010101010101010101010101010101010101010101010101010101010000000000000000000000000000000000000000060606060605050505050504040404040303030303020202020202020101010101010101010101010101010101010101010101010101010101010101010101010101010101010101010101010101010101010101010101000000000000000000000000000000000000000000",W=108,H=72;
var cs=document.querySelectorAll('canvas.hm');
for(var k=0;k<cs.length;k++){var cx=cs[k].getContext('2d');var im=cx.createImageData(W,H);
for(var i=0;i<W*H;i++){var q=parseInt(D.substr(i*2,2),16);im.data[i*4]=parseInt(V.substr(q*6,2),16);im.data[i*4+1]=parseInt(V.substr(q*6+2,2),16);im.data[i*4+2]=parseInt(V.substr(q*6+4,2),16);im.data[i*4+3]=255;}
cx.putImageData(im,0,0);}
})();
</script>
</body></html>
